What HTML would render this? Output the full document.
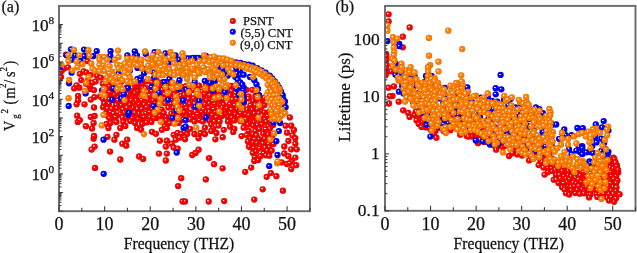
<!DOCTYPE html><html><head><meta charset="utf-8"><style>html,body{margin:0;padding:0;background:#fff;}svg{display:block;}text{font-family:"Liberation Serif",serif;}</style></head><body><svg width="637" height="253" viewBox="0 0 637 253" font-family="Liberation Serif, serif" fill="#111">
<defs>
<radialGradient id="r" cx="0.5" cy="0.5" r="0.5" fx="0.36" fy="0.37"><stop offset="0" stop-color="#ffffff"/><stop offset="0.12" stop-color="#ffffff" stop-opacity="0.9"/><stop offset="0.32" stop-color="#ff0000"/><stop offset="0.8" stop-color="#ff0000"/><stop offset="1" stop-color="#c00000"/></radialGradient>
<radialGradient id="b" cx="0.5" cy="0.5" r="0.5" fx="0.36" fy="0.37"><stop offset="0" stop-color="#ffffff"/><stop offset="0.12" stop-color="#ffffff" stop-opacity="0.9"/><stop offset="0.32" stop-color="#0000ff"/><stop offset="0.8" stop-color="#0000ff"/><stop offset="1" stop-color="#0000b0"/></radialGradient>
<radialGradient id="o" cx="0.5" cy="0.5" r="0.5" fx="0.36" fy="0.37"><stop offset="0" stop-color="#ffffff"/><stop offset="0.12" stop-color="#ffffff" stop-opacity="0.9"/><stop offset="0.32" stop-color="#ff8000"/><stop offset="0.8" stop-color="#ff8000"/><stop offset="1" stop-color="#d06000"/></radialGradient>
<clipPath id="ca"><rect x="59.0" y="5.9" width="250.90" height="205.30"/></clipPath>
<clipPath id="cb"><rect x="385.0" y="5.9" width="250.50" height="204.90"/></clipPath>
</defs>
<rect width="637" height="253" fill="#fff"/>
<g clip-path="url(#ca)">
<circle cx="102.9" cy="83.7" r="3.15" fill="url(#r)"/>
<circle cx="106.9" cy="82.0" r="3.15" fill="url(#r)"/>
<circle cx="111.2" cy="82.2" r="3.15" fill="url(#r)"/>
<circle cx="116.4" cy="81.1" r="3.15" fill="url(#r)"/>
<circle cx="121.5" cy="81.6" r="3.15" fill="url(#r)"/>
<circle cx="128.5" cy="81.2" r="3.15" fill="url(#r)"/>
<circle cx="132.6" cy="83.4" r="3.15" fill="url(#r)"/>
<circle cx="138.5" cy="81.7" r="3.15" fill="url(#r)"/>
<circle cx="142.1" cy="83.4" r="3.15" fill="url(#r)"/>
<circle cx="146.5" cy="81.4" r="3.15" fill="url(#r)"/>
<circle cx="151.8" cy="82.3" r="3.15" fill="url(#r)"/>
<circle cx="156.8" cy="80.9" r="3.15" fill="url(#r)"/>
<circle cx="162.1" cy="82.5" r="3.15" fill="url(#r)"/>
<circle cx="168.0" cy="82.4" r="3.15" fill="url(#r)"/>
<circle cx="178.6" cy="83.1" r="3.15" fill="url(#r)"/>
<circle cx="106.3" cy="87.7" r="3.15" fill="url(#r)"/>
<circle cx="109.3" cy="86.3" r="3.15" fill="url(#r)"/>
<circle cx="115.8" cy="86.8" r="3.15" fill="url(#r)"/>
<circle cx="119.5" cy="85.9" r="3.15" fill="url(#r)"/>
<circle cx="126.4" cy="87.6" r="3.15" fill="url(#r)"/>
<circle cx="130.9" cy="87.3" r="3.15" fill="url(#r)"/>
<circle cx="135.0" cy="86.3" r="3.15" fill="url(#r)"/>
<circle cx="138.7" cy="86.0" r="3.15" fill="url(#r)"/>
<circle cx="145.5" cy="87.9" r="3.15" fill="url(#r)"/>
<circle cx="151.2" cy="88.0" r="3.15" fill="url(#r)"/>
<circle cx="154.6" cy="85.9" r="3.15" fill="url(#r)"/>
<circle cx="159.2" cy="85.8" r="3.15" fill="url(#r)"/>
<circle cx="166.1" cy="87.6" r="3.15" fill="url(#r)"/>
<circle cx="170.4" cy="87.5" r="3.15" fill="url(#r)"/>
<circle cx="175.4" cy="87.8" r="3.15" fill="url(#r)"/>
<circle cx="180.7" cy="86.6" r="3.15" fill="url(#r)"/>
<circle cx="185.8" cy="86.2" r="3.15" fill="url(#r)"/>
<circle cx="191.3" cy="86.4" r="3.15" fill="url(#r)"/>
<circle cx="196.3" cy="87.3" r="3.15" fill="url(#r)"/>
<circle cx="199.0" cy="85.7" r="3.15" fill="url(#r)"/>
<circle cx="205.9" cy="85.7" r="3.15" fill="url(#r)"/>
<circle cx="211.3" cy="87.1" r="3.15" fill="url(#r)"/>
<circle cx="215.1" cy="85.6" r="3.15" fill="url(#r)"/>
<circle cx="221.3" cy="87.1" r="3.15" fill="url(#r)"/>
<circle cx="226.2" cy="86.5" r="3.15" fill="url(#r)"/>
<circle cx="230.9" cy="85.9" r="3.15" fill="url(#r)"/>
<circle cx="234.4" cy="85.9" r="3.15" fill="url(#r)"/>
<circle cx="244.0" cy="87.8" r="3.15" fill="url(#r)"/>
<circle cx="103.3" cy="90.1" r="3.15" fill="url(#r)"/>
<circle cx="108.1" cy="91.1" r="3.15" fill="url(#r)"/>
<circle cx="112.6" cy="91.1" r="3.15" fill="url(#r)"/>
<circle cx="116.4" cy="91.2" r="3.15" fill="url(#r)"/>
<circle cx="121.9" cy="91.8" r="3.15" fill="url(#r)"/>
<circle cx="127.7" cy="91.7" r="3.15" fill="url(#r)"/>
<circle cx="132.3" cy="91.3" r="3.15" fill="url(#r)"/>
<circle cx="137.5" cy="91.5" r="3.15" fill="url(#r)"/>
<circle cx="142.6" cy="90.9" r="3.15" fill="url(#r)"/>
<circle cx="148.1" cy="92.0" r="3.15" fill="url(#r)"/>
<circle cx="151.8" cy="91.2" r="3.15" fill="url(#r)"/>
<circle cx="158.5" cy="90.0" r="3.15" fill="url(#r)"/>
<circle cx="162.3" cy="89.8" r="3.15" fill="url(#r)"/>
<circle cx="166.3" cy="91.5" r="3.15" fill="url(#r)"/>
<circle cx="173.6" cy="90.0" r="3.15" fill="url(#r)"/>
<circle cx="177.9" cy="90.0" r="3.15" fill="url(#r)"/>
<circle cx="183.8" cy="90.2" r="3.15" fill="url(#r)"/>
<circle cx="187.2" cy="91.0" r="3.15" fill="url(#r)"/>
<circle cx="193.4" cy="90.0" r="3.15" fill="url(#r)"/>
<circle cx="197.5" cy="90.5" r="3.15" fill="url(#r)"/>
<circle cx="202.0" cy="91.6" r="3.15" fill="url(#r)"/>
<circle cx="207.7" cy="90.8" r="3.15" fill="url(#r)"/>
<circle cx="212.0" cy="91.3" r="3.15" fill="url(#r)"/>
<circle cx="216.3" cy="92.3" r="3.15" fill="url(#r)"/>
<circle cx="223.8" cy="89.9" r="3.15" fill="url(#r)"/>
<circle cx="226.2" cy="91.8" r="3.15" fill="url(#r)"/>
<circle cx="231.5" cy="90.8" r="3.15" fill="url(#r)"/>
<circle cx="238.4" cy="90.3" r="3.15" fill="url(#r)"/>
<circle cx="243.7" cy="91.2" r="3.15" fill="url(#r)"/>
<circle cx="246.4" cy="89.8" r="3.15" fill="url(#r)"/>
<circle cx="252.3" cy="89.8" r="3.15" fill="url(#r)"/>
<circle cx="100.1" cy="96.5" r="3.15" fill="url(#r)"/>
<circle cx="104.0" cy="95.4" r="3.15" fill="url(#r)"/>
<circle cx="108.9" cy="94.4" r="3.15" fill="url(#r)"/>
<circle cx="114.2" cy="94.8" r="3.15" fill="url(#r)"/>
<circle cx="120.7" cy="94.7" r="3.15" fill="url(#r)"/>
<circle cx="124.1" cy="94.9" r="3.15" fill="url(#r)"/>
<circle cx="129.3" cy="94.0" r="3.15" fill="url(#r)"/>
<circle cx="135.1" cy="94.5" r="3.15" fill="url(#r)"/>
<circle cx="141.2" cy="94.2" r="3.15" fill="url(#r)"/>
<circle cx="144.8" cy="95.3" r="3.15" fill="url(#r)"/>
<circle cx="149.7" cy="95.3" r="3.15" fill="url(#r)"/>
<circle cx="156.4" cy="94.9" r="3.15" fill="url(#r)"/>
<circle cx="160.6" cy="95.7" r="3.15" fill="url(#r)"/>
<circle cx="164.6" cy="94.1" r="3.15" fill="url(#r)"/>
<circle cx="168.8" cy="96.0" r="3.15" fill="url(#r)"/>
<circle cx="174.1" cy="94.2" r="3.15" fill="url(#r)"/>
<circle cx="181.0" cy="95.8" r="3.15" fill="url(#r)"/>
<circle cx="184.3" cy="94.7" r="3.15" fill="url(#r)"/>
<circle cx="189.0" cy="95.2" r="3.15" fill="url(#r)"/>
<circle cx="196.3" cy="96.6" r="3.15" fill="url(#r)"/>
<circle cx="199.3" cy="96.6" r="3.15" fill="url(#r)"/>
<circle cx="204.6" cy="93.9" r="3.15" fill="url(#r)"/>
<circle cx="209.9" cy="95.3" r="3.15" fill="url(#r)"/>
<circle cx="215.0" cy="93.9" r="3.15" fill="url(#r)"/>
<circle cx="218.9" cy="95.0" r="3.15" fill="url(#r)"/>
<circle cx="223.7" cy="94.8" r="3.15" fill="url(#r)"/>
<circle cx="230.2" cy="95.4" r="3.15" fill="url(#r)"/>
<circle cx="235.4" cy="95.9" r="3.15" fill="url(#r)"/>
<circle cx="239.7" cy="94.8" r="3.15" fill="url(#r)"/>
<circle cx="244.0" cy="95.9" r="3.15" fill="url(#r)"/>
<circle cx="248.7" cy="96.3" r="3.15" fill="url(#r)"/>
<circle cx="255.4" cy="96.0" r="3.15" fill="url(#r)"/>
<circle cx="259.0" cy="95.4" r="3.15" fill="url(#r)"/>
<circle cx="103.0" cy="98.9" r="3.15" fill="url(#r)"/>
<circle cx="106.5" cy="99.3" r="3.15" fill="url(#r)"/>
<circle cx="113.4" cy="99.8" r="3.15" fill="url(#r)"/>
<circle cx="117.9" cy="100.2" r="3.15" fill="url(#r)"/>
<circle cx="121.1" cy="100.5" r="3.15" fill="url(#r)"/>
<circle cx="127.5" cy="99.7" r="3.15" fill="url(#r)"/>
<circle cx="131.3" cy="100.3" r="3.15" fill="url(#r)"/>
<circle cx="136.3" cy="99.0" r="3.15" fill="url(#r)"/>
<circle cx="141.7" cy="100.3" r="3.15" fill="url(#r)"/>
<circle cx="147.5" cy="99.3" r="3.15" fill="url(#r)"/>
<circle cx="153.0" cy="100.4" r="3.15" fill="url(#r)"/>
<circle cx="157.9" cy="98.5" r="3.15" fill="url(#r)"/>
<circle cx="161.8" cy="100.3" r="3.15" fill="url(#r)"/>
<circle cx="167.7" cy="98.3" r="3.15" fill="url(#r)"/>
<circle cx="171.9" cy="100.1" r="3.15" fill="url(#r)"/>
<circle cx="178.0" cy="99.1" r="3.15" fill="url(#r)"/>
<circle cx="182.4" cy="99.6" r="3.15" fill="url(#r)"/>
<circle cx="188.6" cy="98.8" r="3.15" fill="url(#r)"/>
<circle cx="193.7" cy="98.3" r="3.15" fill="url(#r)"/>
<circle cx="198.4" cy="101.0" r="3.15" fill="url(#r)"/>
<circle cx="201.9" cy="98.8" r="3.15" fill="url(#r)"/>
<circle cx="206.7" cy="99.9" r="3.15" fill="url(#r)"/>
<circle cx="212.6" cy="100.9" r="3.15" fill="url(#r)"/>
<circle cx="218.4" cy="99.7" r="3.15" fill="url(#r)"/>
<circle cx="223.1" cy="98.9" r="3.15" fill="url(#r)"/>
<circle cx="227.5" cy="98.3" r="3.15" fill="url(#r)"/>
<circle cx="232.5" cy="99.5" r="3.15" fill="url(#r)"/>
<circle cx="236.5" cy="99.2" r="3.15" fill="url(#r)"/>
<circle cx="243.5" cy="98.3" r="3.15" fill="url(#r)"/>
<circle cx="248.4" cy="98.6" r="3.15" fill="url(#r)"/>
<circle cx="253.1" cy="100.8" r="3.15" fill="url(#r)"/>
<circle cx="257.1" cy="99.4" r="3.15" fill="url(#r)"/>
<circle cx="262.7" cy="99.3" r="3.15" fill="url(#r)"/>
<circle cx="104.3" cy="103.3" r="3.15" fill="url(#r)"/>
<circle cx="109.1" cy="103.6" r="3.15" fill="url(#r)"/>
<circle cx="116.1" cy="104.9" r="3.15" fill="url(#r)"/>
<circle cx="121.2" cy="105.2" r="3.15" fill="url(#r)"/>
<circle cx="125.6" cy="102.7" r="3.15" fill="url(#r)"/>
<circle cx="129.9" cy="104.7" r="3.15" fill="url(#r)"/>
<circle cx="134.4" cy="102.7" r="3.15" fill="url(#r)"/>
<circle cx="139.0" cy="103.9" r="3.15" fill="url(#r)"/>
<circle cx="144.4" cy="104.6" r="3.15" fill="url(#r)"/>
<circle cx="149.3" cy="104.4" r="3.15" fill="url(#r)"/>
<circle cx="155.2" cy="103.7" r="3.15" fill="url(#r)"/>
<circle cx="159.1" cy="103.2" r="3.15" fill="url(#r)"/>
<circle cx="165.0" cy="103.2" r="3.15" fill="url(#r)"/>
<circle cx="171.4" cy="103.8" r="3.15" fill="url(#r)"/>
<circle cx="174.1" cy="102.8" r="3.15" fill="url(#r)"/>
<circle cx="178.9" cy="103.2" r="3.15" fill="url(#r)"/>
<circle cx="185.2" cy="105.1" r="3.15" fill="url(#r)"/>
<circle cx="189.8" cy="103.7" r="3.15" fill="url(#r)"/>
<circle cx="194.7" cy="103.5" r="3.15" fill="url(#r)"/>
<circle cx="199.4" cy="105.3" r="3.15" fill="url(#r)"/>
<circle cx="205.0" cy="104.3" r="3.15" fill="url(#r)"/>
<circle cx="209.2" cy="103.3" r="3.15" fill="url(#r)"/>
<circle cx="214.7" cy="103.8" r="3.15" fill="url(#r)"/>
<circle cx="221.0" cy="105.0" r="3.15" fill="url(#r)"/>
<circle cx="223.7" cy="104.6" r="3.15" fill="url(#r)"/>
<circle cx="229.9" cy="104.2" r="3.15" fill="url(#r)"/>
<circle cx="234.7" cy="105.2" r="3.15" fill="url(#r)"/>
<circle cx="241.0" cy="105.3" r="3.15" fill="url(#r)"/>
<circle cx="243.9" cy="103.0" r="3.15" fill="url(#r)"/>
<circle cx="250.5" cy="105.2" r="3.15" fill="url(#r)"/>
<circle cx="255.4" cy="104.7" r="3.15" fill="url(#r)"/>
<circle cx="260.1" cy="102.7" r="3.15" fill="url(#r)"/>
<circle cx="264.3" cy="105.2" r="3.15" fill="url(#r)"/>
<circle cx="103.1" cy="107.2" r="3.15" fill="url(#r)"/>
<circle cx="107.6" cy="108.5" r="3.15" fill="url(#r)"/>
<circle cx="111.7" cy="108.6" r="3.15" fill="url(#r)"/>
<circle cx="116.9" cy="108.2" r="3.15" fill="url(#r)"/>
<circle cx="122.9" cy="109.4" r="3.15" fill="url(#r)"/>
<circle cx="126.8" cy="107.6" r="3.15" fill="url(#r)"/>
<circle cx="133.1" cy="107.8" r="3.15" fill="url(#r)"/>
<circle cx="137.5" cy="108.8" r="3.15" fill="url(#r)"/>
<circle cx="141.8" cy="108.8" r="3.15" fill="url(#r)"/>
<circle cx="146.7" cy="107.0" r="3.15" fill="url(#r)"/>
<circle cx="152.3" cy="108.8" r="3.15" fill="url(#r)"/>
<circle cx="158.3" cy="109.0" r="3.15" fill="url(#r)"/>
<circle cx="161.7" cy="109.6" r="3.15" fill="url(#r)"/>
<circle cx="168.4" cy="107.6" r="3.15" fill="url(#r)"/>
<circle cx="173.2" cy="107.7" r="3.15" fill="url(#r)"/>
<circle cx="177.5" cy="107.4" r="3.15" fill="url(#r)"/>
<circle cx="182.3" cy="108.8" r="3.15" fill="url(#r)"/>
<circle cx="186.5" cy="108.0" r="3.15" fill="url(#r)"/>
<circle cx="193.8" cy="107.3" r="3.15" fill="url(#r)"/>
<circle cx="196.3" cy="108.0" r="3.15" fill="url(#r)"/>
<circle cx="203.6" cy="109.0" r="3.15" fill="url(#r)"/>
<circle cx="208.7" cy="107.8" r="3.15" fill="url(#r)"/>
<circle cx="213.7" cy="109.0" r="3.15" fill="url(#r)"/>
<circle cx="218.0" cy="108.0" r="3.15" fill="url(#r)"/>
<circle cx="222.0" cy="107.4" r="3.15" fill="url(#r)"/>
<circle cx="226.9" cy="107.9" r="3.15" fill="url(#r)"/>
<circle cx="231.4" cy="109.6" r="3.15" fill="url(#r)"/>
<circle cx="237.1" cy="109.2" r="3.15" fill="url(#r)"/>
<circle cx="242.3" cy="107.0" r="3.15" fill="url(#r)"/>
<circle cx="247.1" cy="109.5" r="3.15" fill="url(#r)"/>
<circle cx="252.1" cy="109.4" r="3.15" fill="url(#r)"/>
<circle cx="257.3" cy="109.2" r="3.15" fill="url(#r)"/>
<circle cx="261.2" cy="107.0" r="3.15" fill="url(#r)"/>
<circle cx="106.3" cy="113.0" r="3.15" fill="url(#r)"/>
<circle cx="110.6" cy="112.1" r="3.15" fill="url(#r)"/>
<circle cx="113.6" cy="113.4" r="3.15" fill="url(#r)"/>
<circle cx="120.4" cy="113.9" r="3.15" fill="url(#r)"/>
<circle cx="124.3" cy="112.6" r="3.15" fill="url(#r)"/>
<circle cx="131.3" cy="112.3" r="3.15" fill="url(#r)"/>
<circle cx="134.8" cy="112.6" r="3.15" fill="url(#r)"/>
<circle cx="139.1" cy="113.5" r="3.15" fill="url(#r)"/>
<circle cx="145.9" cy="113.4" r="3.15" fill="url(#r)"/>
<circle cx="149.5" cy="112.1" r="3.15" fill="url(#r)"/>
<circle cx="155.8" cy="111.5" r="3.15" fill="url(#r)"/>
<circle cx="160.7" cy="111.9" r="3.15" fill="url(#r)"/>
<circle cx="163.7" cy="112.8" r="3.15" fill="url(#r)"/>
<circle cx="171.3" cy="113.7" r="3.15" fill="url(#r)"/>
<circle cx="174.3" cy="111.5" r="3.15" fill="url(#r)"/>
<circle cx="180.0" cy="113.2" r="3.15" fill="url(#r)"/>
<circle cx="184.3" cy="112.4" r="3.15" fill="url(#r)"/>
<circle cx="190.5" cy="113.3" r="3.15" fill="url(#r)"/>
<circle cx="195.5" cy="111.6" r="3.15" fill="url(#r)"/>
<circle cx="199.4" cy="112.8" r="3.15" fill="url(#r)"/>
<circle cx="205.7" cy="111.8" r="3.15" fill="url(#r)"/>
<circle cx="209.3" cy="111.7" r="3.15" fill="url(#r)"/>
<circle cx="215.2" cy="112.2" r="3.15" fill="url(#r)"/>
<circle cx="221.4" cy="112.7" r="3.15" fill="url(#r)"/>
<circle cx="225.9" cy="113.1" r="3.15" fill="url(#r)"/>
<circle cx="228.9" cy="112.6" r="3.15" fill="url(#r)"/>
<circle cx="236.0" cy="113.8" r="3.15" fill="url(#r)"/>
<circle cx="239.4" cy="111.6" r="3.15" fill="url(#r)"/>
<circle cx="246.3" cy="112.9" r="3.15" fill="url(#r)"/>
<circle cx="249.6" cy="113.7" r="3.15" fill="url(#r)"/>
<circle cx="254.3" cy="113.4" r="3.15" fill="url(#r)"/>
<circle cx="258.9" cy="112.9" r="3.15" fill="url(#r)"/>
<circle cx="264.2" cy="112.3" r="3.15" fill="url(#r)"/>
<circle cx="269.2" cy="112.0" r="3.15" fill="url(#r)"/>
<circle cx="108.0" cy="116.1" r="3.15" fill="url(#r)"/>
<circle cx="111.7" cy="117.8" r="3.15" fill="url(#r)"/>
<circle cx="116.3" cy="115.9" r="3.15" fill="url(#r)"/>
<circle cx="122.6" cy="117.4" r="3.15" fill="url(#r)"/>
<circle cx="126.6" cy="117.5" r="3.15" fill="url(#r)"/>
<circle cx="131.9" cy="116.4" r="3.15" fill="url(#r)"/>
<circle cx="137.0" cy="117.2" r="3.15" fill="url(#r)"/>
<circle cx="142.3" cy="118.0" r="3.15" fill="url(#r)"/>
<circle cx="147.1" cy="116.1" r="3.15" fill="url(#r)"/>
<circle cx="151.7" cy="115.6" r="3.15" fill="url(#r)"/>
<circle cx="157.3" cy="117.9" r="3.15" fill="url(#r)"/>
<circle cx="163.6" cy="116.9" r="3.15" fill="url(#r)"/>
<circle cx="166.1" cy="117.1" r="3.15" fill="url(#r)"/>
<circle cx="173.6" cy="115.8" r="3.15" fill="url(#r)"/>
<circle cx="177.1" cy="117.0" r="3.15" fill="url(#r)"/>
<circle cx="181.9" cy="117.0" r="3.15" fill="url(#r)"/>
<circle cx="186.4" cy="116.9" r="3.15" fill="url(#r)"/>
<circle cx="193.8" cy="116.1" r="3.15" fill="url(#r)"/>
<circle cx="198.7" cy="118.3" r="3.15" fill="url(#r)"/>
<circle cx="201.2" cy="118.2" r="3.15" fill="url(#r)"/>
<circle cx="208.6" cy="117.3" r="3.15" fill="url(#r)"/>
<circle cx="211.5" cy="117.8" r="3.15" fill="url(#r)"/>
<circle cx="217.2" cy="117.9" r="3.15" fill="url(#r)"/>
<circle cx="221.6" cy="116.2" r="3.15" fill="url(#r)"/>
<circle cx="227.6" cy="116.6" r="3.15" fill="url(#r)"/>
<circle cx="231.8" cy="117.6" r="3.15" fill="url(#r)"/>
<circle cx="236.2" cy="117.1" r="3.15" fill="url(#r)"/>
<circle cx="241.2" cy="117.9" r="3.15" fill="url(#r)"/>
<circle cx="247.8" cy="117.1" r="3.15" fill="url(#r)"/>
<circle cx="252.0" cy="116.7" r="3.15" fill="url(#r)"/>
<circle cx="257.3" cy="117.4" r="3.15" fill="url(#r)"/>
<circle cx="262.3" cy="115.6" r="3.15" fill="url(#r)"/>
<circle cx="267.5" cy="116.2" r="3.15" fill="url(#r)"/>
<circle cx="151.4" cy="121.9" r="3.15" fill="url(#r)"/>
<circle cx="166.2" cy="120.4" r="3.15" fill="url(#r)"/>
<circle cx="171.2" cy="120.1" r="3.15" fill="url(#r)"/>
<circle cx="175.7" cy="120.3" r="3.15" fill="url(#r)"/>
<circle cx="199.5" cy="120.0" r="3.15" fill="url(#r)"/>
<circle cx="218.9" cy="121.4" r="3.15" fill="url(#r)"/>
<circle cx="230.2" cy="121.5" r="3.15" fill="url(#r)"/>
<circle cx="240.4" cy="121.0" r="3.15" fill="url(#r)"/>
<circle cx="244.3" cy="122.7" r="3.15" fill="url(#r)"/>
<circle cx="249.6" cy="122.0" r="3.15" fill="url(#r)"/>
<circle cx="254.1" cy="122.0" r="3.15" fill="url(#r)"/>
<circle cx="260.9" cy="120.6" r="3.15" fill="url(#r)"/>
<circle cx="266.4" cy="121.5" r="3.15" fill="url(#r)"/>
<circle cx="269.5" cy="119.9" r="3.15" fill="url(#r)"/>
<circle cx="248.1" cy="124.2" r="3.15" fill="url(#r)"/>
<circle cx="253.2" cy="125.5" r="3.15" fill="url(#r)"/>
<circle cx="257.4" cy="124.9" r="3.15" fill="url(#r)"/>
<circle cx="261.8" cy="124.3" r="3.15" fill="url(#r)"/>
<circle cx="268.2" cy="126.2" r="3.15" fill="url(#r)"/>
<circle cx="273.1" cy="125.0" r="3.15" fill="url(#r)"/>
<circle cx="248.7" cy="130.9" r="3.15" fill="url(#r)"/>
<circle cx="255.4" cy="130.9" r="3.15" fill="url(#r)"/>
<circle cx="259.4" cy="128.8" r="3.15" fill="url(#r)"/>
<circle cx="265.7" cy="129.1" r="3.15" fill="url(#r)"/>
<circle cx="269.8" cy="128.6" r="3.15" fill="url(#r)"/>
<circle cx="247.6" cy="135.0" r="3.15" fill="url(#r)"/>
<circle cx="252.9" cy="133.9" r="3.15" fill="url(#r)"/>
<circle cx="256.5" cy="135.3" r="3.15" fill="url(#r)"/>
<circle cx="263.2" cy="133.4" r="3.15" fill="url(#r)"/>
<circle cx="268.3" cy="134.5" r="3.15" fill="url(#r)"/>
<circle cx="272.4" cy="135.4" r="3.15" fill="url(#r)"/>
<circle cx="249.8" cy="138.5" r="3.15" fill="url(#r)"/>
<circle cx="254.7" cy="139.1" r="3.15" fill="url(#r)"/>
<circle cx="259.1" cy="139.1" r="3.15" fill="url(#r)"/>
<circle cx="264.7" cy="138.6" r="3.15" fill="url(#r)"/>
<circle cx="268.7" cy="138.7" r="3.15" fill="url(#r)"/>
<circle cx="253.1" cy="142.3" r="3.15" fill="url(#r)"/>
<circle cx="256.9" cy="142.9" r="3.15" fill="url(#r)"/>
<circle cx="262.9" cy="143.4" r="3.15" fill="url(#r)"/>
<circle cx="268.7" cy="143.9" r="3.15" fill="url(#r)"/>
<circle cx="273.4" cy="144.1" r="3.15" fill="url(#r)"/>
<circle cx="250.0" cy="147.2" r="3.15" fill="url(#r)"/>
<circle cx="253.7" cy="147.9" r="3.15" fill="url(#r)"/>
<circle cx="259.5" cy="148.3" r="3.15" fill="url(#r)"/>
<circle cx="264.9" cy="147.4" r="3.15" fill="url(#r)"/>
<circle cx="269.2" cy="147.1" r="3.15" fill="url(#r)"/>
<circle cx="252.7" cy="152.8" r="3.15" fill="url(#r)"/>
<circle cx="256.1" cy="151.3" r="3.15" fill="url(#r)"/>
<circle cx="263.7" cy="153.0" r="3.15" fill="url(#r)"/>
<circle cx="267.3" cy="150.5" r="3.15" fill="url(#r)"/>
<circle cx="271.7" cy="150.6" r="3.15" fill="url(#r)"/>
<circle cx="254.8" cy="157.0" r="3.15" fill="url(#r)"/>
<circle cx="260.5" cy="156.2" r="3.15" fill="url(#r)"/>
<circle cx="265.9" cy="155.3" r="3.15" fill="url(#r)"/>
<circle cx="269.3" cy="155.7" r="3.15" fill="url(#r)"/>
<circle cx="77.2" cy="115.7" r="3.15" fill="url(#r)"/>
<circle cx="77.8" cy="121.9" r="3.15" fill="url(#r)"/>
<circle cx="94.6" cy="116.0" r="3.15" fill="url(#r)"/>
<circle cx="109.4" cy="118.0" r="3.15" fill="url(#r)"/>
<circle cx="115.4" cy="117.0" r="3.15" fill="url(#r)"/>
<circle cx="116.4" cy="121.9" r="3.15" fill="url(#r)"/>
<circle cx="110.4" cy="122.9" r="3.15" fill="url(#r)"/>
<circle cx="132.2" cy="118.0" r="3.15" fill="url(#r)"/>
<circle cx="138.1" cy="119.0" r="3.15" fill="url(#r)"/>
<circle cx="144.0" cy="117.0" r="3.15" fill="url(#r)"/>
<circle cx="150.0" cy="117.0" r="3.15" fill="url(#r)"/>
<circle cx="146.5" cy="122.4" r="3.15" fill="url(#r)"/>
<circle cx="153.9" cy="118.0" r="3.15" fill="url(#r)"/>
<circle cx="159.9" cy="116.0" r="3.15" fill="url(#r)"/>
<circle cx="181.6" cy="119.9" r="3.15" fill="url(#r)"/>
<circle cx="85.9" cy="126.2" r="3.15" fill="url(#r)"/>
<circle cx="92.0" cy="128.5" r="3.15" fill="url(#r)"/>
<circle cx="93.6" cy="122.9" r="3.15" fill="url(#r)"/>
<circle cx="106.5" cy="123.9" r="3.15" fill="url(#r)"/>
<circle cx="108.4" cy="127.9" r="3.15" fill="url(#r)"/>
<circle cx="120.3" cy="127.9" r="3.15" fill="url(#r)"/>
<circle cx="123.3" cy="121.9" r="3.15" fill="url(#r)"/>
<circle cx="125.3" cy="125.9" r="3.15" fill="url(#r)"/>
<circle cx="130.2" cy="120.9" r="3.15" fill="url(#r)"/>
<circle cx="135.1" cy="122.9" r="3.15" fill="url(#r)"/>
<circle cx="137.1" cy="127.9" r="3.15" fill="url(#r)"/>
<circle cx="142.1" cy="123.9" r="3.15" fill="url(#r)"/>
<circle cx="141.1" cy="129.8" r="3.15" fill="url(#r)"/>
<circle cx="164.8" cy="125.9" r="3.15" fill="url(#r)"/>
<circle cx="169.8" cy="122.9" r="3.15" fill="url(#r)"/>
<circle cx="178.7" cy="122.9" r="3.15" fill="url(#r)"/>
<circle cx="183.6" cy="119.0" r="3.15" fill="url(#r)"/>
<circle cx="152.0" cy="131.8" r="3.15" fill="url(#r)"/>
<circle cx="155.9" cy="133.8" r="3.15" fill="url(#r)"/>
<circle cx="161.8" cy="129.8" r="3.15" fill="url(#r)"/>
<circle cx="166.8" cy="127.9" r="3.15" fill="url(#r)"/>
<circle cx="173.7" cy="134.8" r="3.15" fill="url(#r)"/>
<circle cx="177.7" cy="132.8" r="3.15" fill="url(#r)"/>
<circle cx="181.6" cy="133.8" r="3.15" fill="url(#r)"/>
<circle cx="184.6" cy="131.8" r="3.15" fill="url(#r)"/>
<circle cx="93.6" cy="138.7" r="3.15" fill="url(#r)"/>
<circle cx="107.5" cy="136.8" r="3.15" fill="url(#r)"/>
<circle cx="114.4" cy="139.7" r="3.15" fill="url(#r)"/>
<circle cx="116.4" cy="134.8" r="3.15" fill="url(#r)"/>
<circle cx="127.2" cy="139.7" r="3.15" fill="url(#r)"/>
<circle cx="122.3" cy="143.7" r="3.15" fill="url(#r)"/>
<circle cx="126.2" cy="145.7" r="3.15" fill="url(#r)"/>
<circle cx="159.9" cy="140.7" r="3.15" fill="url(#r)"/>
<circle cx="166.8" cy="140.7" r="3.15" fill="url(#r)"/>
<circle cx="175.7" cy="139.7" r="3.15" fill="url(#r)"/>
<circle cx="179.6" cy="137.7" r="3.15" fill="url(#r)"/>
<circle cx="171.7" cy="143.7" r="3.15" fill="url(#r)"/>
<circle cx="94.6" cy="146.6" r="3.15" fill="url(#r)"/>
<circle cx="91.6" cy="149.6" r="3.15" fill="url(#r)"/>
<circle cx="110.0" cy="151.6" r="3.15" fill="url(#r)"/>
<circle cx="165.8" cy="146.6" r="3.15" fill="url(#r)"/>
<circle cx="173.7" cy="147.6" r="3.15" fill="url(#r)"/>
<circle cx="177.7" cy="148.6" r="3.15" fill="url(#r)"/>
<circle cx="158.9" cy="153.6" r="3.15" fill="url(#r)"/>
<circle cx="166.8" cy="153.6" r="3.15" fill="url(#r)"/>
<circle cx="120.3" cy="159.5" r="3.15" fill="url(#r)"/>
<circle cx="139.1" cy="156.5" r="3.15" fill="url(#r)"/>
<circle cx="143.1" cy="158.9" r="3.15" fill="url(#r)"/>
<circle cx="165.8" cy="160.5" r="3.15" fill="url(#r)"/>
<circle cx="95.0" cy="167.9" r="3.15" fill="url(#r)"/>
<circle cx="181.2" cy="178.2" r="3.15" fill="url(#r)"/>
<circle cx="178.1" cy="186.1" r="3.15" fill="url(#r)"/>
<circle cx="182.6" cy="201.5" r="3.15" fill="url(#r)"/>
<circle cx="214.0" cy="164.2" r="3.15" fill="url(#r)"/>
<circle cx="222.6" cy="168.3" r="3.15" fill="url(#r)"/>
<circle cx="205.8" cy="179.4" r="3.15" fill="url(#r)"/>
<circle cx="245.2" cy="171.8" r="3.15" fill="url(#r)"/>
<circle cx="251.2" cy="167.6" r="3.15" fill="url(#r)"/>
<circle cx="254.2" cy="161.0" r="3.15" fill="url(#r)"/>
<circle cx="258.2" cy="160.0" r="3.15" fill="url(#r)"/>
<circle cx="281.7" cy="162.3" r="3.15" fill="url(#r)"/>
<circle cx="286.9" cy="164.0" r="3.15" fill="url(#r)"/>
<circle cx="291.8" cy="161.0" r="3.15" fill="url(#r)"/>
<circle cx="296.2" cy="165.2" r="3.15" fill="url(#r)"/>
<circle cx="291.2" cy="169.1" r="3.15" fill="url(#r)"/>
<circle cx="266.7" cy="176.8" r="3.15" fill="url(#r)"/>
<circle cx="270.9" cy="173.1" r="3.15" fill="url(#r)"/>
<circle cx="276.4" cy="176.2" r="3.15" fill="url(#r)"/>
<circle cx="262.7" cy="189.3" r="3.15" fill="url(#r)"/>
<circle cx="282.9" cy="190.7" r="3.15" fill="url(#r)"/>
<circle cx="185.0" cy="201.5" r="3.15" fill="url(#r)"/>
<circle cx="208.7" cy="201.5" r="3.15" fill="url(#r)"/>
<circle cx="224.2" cy="201.1" r="3.15" fill="url(#r)"/>
<circle cx="254.2" cy="199.6" r="3.15" fill="url(#r)"/>
<circle cx="190.2" cy="113.0" r="3.15" fill="url(#r)"/>
<circle cx="197.6" cy="114.1" r="3.15" fill="url(#r)"/>
<circle cx="201.8" cy="112.0" r="3.15" fill="url(#r)"/>
<circle cx="224.8" cy="114.1" r="3.15" fill="url(#r)"/>
<circle cx="230.1" cy="113.0" r="3.15" fill="url(#r)"/>
<circle cx="235.3" cy="114.1" r="3.15" fill="url(#r)"/>
<circle cx="240.6" cy="113.0" r="3.15" fill="url(#r)"/>
<circle cx="245.8" cy="114.1" r="3.15" fill="url(#r)"/>
<circle cx="248.9" cy="115.1" r="3.15" fill="url(#r)"/>
<circle cx="212.3" cy="115.1" r="3.15" fill="url(#r)"/>
<circle cx="216.4" cy="117.2" r="3.15" fill="url(#r)"/>
<circle cx="221.7" cy="115.1" r="3.15" fill="url(#r)"/>
<circle cx="190.2" cy="119.3" r="3.15" fill="url(#r)"/>
<circle cx="194.4" cy="121.4" r="3.15" fill="url(#r)"/>
<circle cx="202.8" cy="121.4" r="3.15" fill="url(#r)"/>
<circle cx="209.1" cy="120.4" r="3.15" fill="url(#r)"/>
<circle cx="214.4" cy="121.4" r="3.15" fill="url(#r)"/>
<circle cx="219.6" cy="121.4" r="3.15" fill="url(#r)"/>
<circle cx="228.0" cy="121.4" r="3.15" fill="url(#r)"/>
<circle cx="234.3" cy="120.4" r="3.15" fill="url(#r)"/>
<circle cx="238.5" cy="116.2" r="3.15" fill="url(#r)"/>
<circle cx="245.8" cy="119.3" r="3.15" fill="url(#r)"/>
<circle cx="190.2" cy="128.8" r="3.15" fill="url(#r)"/>
<circle cx="204.9" cy="127.7" r="3.15" fill="url(#r)"/>
<circle cx="211.2" cy="124.6" r="3.15" fill="url(#r)"/>
<circle cx="213.3" cy="128.8" r="3.15" fill="url(#r)"/>
<circle cx="218.5" cy="125.6" r="3.15" fill="url(#r)"/>
<circle cx="223.8" cy="129.8" r="3.15" fill="url(#r)"/>
<circle cx="230.1" cy="126.7" r="3.15" fill="url(#r)"/>
<circle cx="234.3" cy="128.8" r="3.15" fill="url(#r)"/>
<circle cx="233.2" cy="131.9" r="3.15" fill="url(#r)"/>
<circle cx="243.7" cy="127.7" r="3.15" fill="url(#r)"/>
<circle cx="247.9" cy="124.6" r="3.15" fill="url(#r)"/>
<circle cx="187.1" cy="134.0" r="3.15" fill="url(#r)"/>
<circle cx="194.4" cy="134.0" r="3.15" fill="url(#r)"/>
<circle cx="200.7" cy="133.0" r="3.15" fill="url(#r)"/>
<circle cx="204.9" cy="134.0" r="3.15" fill="url(#r)"/>
<circle cx="211.2" cy="130.9" r="3.15" fill="url(#r)"/>
<circle cx="216.4" cy="133.0" r="3.15" fill="url(#r)"/>
<circle cx="222.7" cy="137.2" r="3.15" fill="url(#r)"/>
<circle cx="241.6" cy="136.1" r="3.15" fill="url(#r)"/>
<circle cx="246.8" cy="135.1" r="3.15" fill="url(#r)"/>
<circle cx="185.0" cy="139.3" r="3.15" fill="url(#r)"/>
<circle cx="198.6" cy="138.2" r="3.15" fill="url(#r)"/>
<circle cx="215.4" cy="139.3" r="3.15" fill="url(#r)"/>
<circle cx="247.9" cy="141.4" r="3.15" fill="url(#r)"/>
<circle cx="248.9" cy="146.6" r="3.15" fill="url(#r)"/>
<circle cx="198.6" cy="149.7" r="3.15" fill="url(#r)"/>
<circle cx="195.5" cy="152.9" r="3.15" fill="url(#r)"/>
<circle cx="192.3" cy="155.0" r="3.15" fill="url(#r)"/>
<circle cx="209.1" cy="158.1" r="3.15" fill="url(#r)"/>
<circle cx="66.0" cy="54.7" r="3.15" fill="url(#r)"/>
<circle cx="87.5" cy="61.0" r="3.15" fill="url(#r)"/>
<circle cx="64.1" cy="68.6" r="3.15" fill="url(#r)"/>
<circle cx="67.9" cy="67.3" r="3.15" fill="url(#r)"/>
<circle cx="83.7" cy="71.5" r="3.15" fill="url(#r)"/>
<circle cx="86.2" cy="72.4" r="3.15" fill="url(#r)"/>
<circle cx="61.5" cy="71.1" r="3.15" fill="url(#r)"/>
<circle cx="60.9" cy="77.0" r="3.15" fill="url(#r)"/>
<circle cx="74.2" cy="88.4" r="3.15" fill="url(#r)"/>
<circle cx="79.3" cy="87.7" r="3.15" fill="url(#r)"/>
<circle cx="79.9" cy="73.8" r="3.15" fill="url(#r)"/>
<circle cx="81.2" cy="80.1" r="3.15" fill="url(#r)"/>
<circle cx="88.1" cy="80.1" r="3.15" fill="url(#r)"/>
<circle cx="90.6" cy="75.1" r="3.15" fill="url(#r)"/>
<circle cx="92.5" cy="82.7" r="3.15" fill="url(#r)"/>
<circle cx="95.7" cy="81.4" r="3.15" fill="url(#r)"/>
<circle cx="97.0" cy="75.7" r="3.15" fill="url(#r)"/>
<circle cx="100.8" cy="77.6" r="3.15" fill="url(#r)"/>
<circle cx="90.6" cy="89.0" r="3.15" fill="url(#r)"/>
<circle cx="89.4" cy="85.8" r="3.15" fill="url(#r)"/>
<circle cx="94.4" cy="97.2" r="3.15" fill="url(#r)"/>
<circle cx="78.1" cy="95.9" r="3.15" fill="url(#r)"/>
<circle cx="78.0" cy="100.4" r="3.15" fill="url(#r)"/>
<circle cx="109.6" cy="92.2" r="3.15" fill="url(#r)"/>
<circle cx="114.7" cy="94.7" r="3.15" fill="url(#r)"/>
<circle cx="117.2" cy="92.8" r="3.15" fill="url(#r)"/>
<circle cx="126.1" cy="99.1" r="3.15" fill="url(#r)"/>
<circle cx="133.7" cy="95.3" r="3.15" fill="url(#r)"/>
<circle cx="132.4" cy="87.7" r="3.15" fill="url(#r)"/>
<circle cx="134.9" cy="92.8" r="3.15" fill="url(#r)"/>
<circle cx="137.5" cy="83.9" r="3.15" fill="url(#r)"/>
<circle cx="136.2" cy="100.4" r="3.15" fill="url(#r)"/>
<circle cx="128.0" cy="94.1" r="3.15" fill="url(#r)"/>
<circle cx="109.6" cy="99.1" r="3.15" fill="url(#r)"/>
<circle cx="264.1" cy="97.7" r="3.15" fill="url(#r)"/>
<circle cx="76.6" cy="85.3" r="3.15" fill="url(#r)"/>
<circle cx="86.1" cy="83.8" r="3.15" fill="url(#r)"/>
<circle cx="94.0" cy="90.1" r="3.15" fill="url(#r)"/>
<circle cx="76.6" cy="104.3" r="3.15" fill="url(#r)"/>
<circle cx="90.8" cy="99.6" r="3.15" fill="url(#r)"/>
<circle cx="94.0" cy="107.5" r="3.15" fill="url(#r)"/>
<circle cx="84.5" cy="104.3" r="3.15" fill="url(#r)"/>
<circle cx="79.8" cy="120.2" r="3.15" fill="url(#r)"/>
<circle cx="94.0" cy="136.0" r="3.15" fill="url(#r)"/>
<circle cx="90.8" cy="117.0" r="3.15" fill="url(#r)"/>
<circle cx="289.8" cy="117.4" r="3.15" fill="url(#r)"/>
<circle cx="285.6" cy="125.7" r="3.15" fill="url(#r)"/>
<circle cx="291.2" cy="125.7" r="3.15" fill="url(#r)"/>
<circle cx="287.0" cy="132.7" r="3.15" fill="url(#r)"/>
<circle cx="292.6" cy="135.4" r="3.15" fill="url(#r)"/>
<circle cx="288.4" cy="141.0" r="3.15" fill="url(#r)"/>
<circle cx="295.3" cy="143.7" r="3.15" fill="url(#r)"/>
<circle cx="284.3" cy="146.5" r="3.15" fill="url(#r)"/>
<circle cx="291.2" cy="149.3" r="3.15" fill="url(#r)"/>
<circle cx="296.7" cy="149.3" r="3.15" fill="url(#r)"/>
<circle cx="284.3" cy="153.4" r="3.15" fill="url(#r)"/>
<circle cx="288.4" cy="156.2" r="3.15" fill="url(#r)"/>
<circle cx="295.3" cy="157.6" r="3.15" fill="url(#r)"/>
<circle cx="289.8" cy="163.1" r="3.15" fill="url(#r)"/>
<circle cx="295.3" cy="138.2" r="3.15" fill="url(#r)"/>
<circle cx="293.9" cy="129.9" r="3.15" fill="url(#r)"/>
<circle cx="185.9" cy="58.3" r="3.15" fill="url(#b)"/>
<circle cx="190.9" cy="58.3" r="3.15" fill="url(#b)"/>
<circle cx="195.8" cy="58.0" r="3.15" fill="url(#b)"/>
<circle cx="199.9" cy="58.3" r="3.15" fill="url(#b)"/>
<circle cx="203.1" cy="58.4" r="3.15" fill="url(#b)"/>
<circle cx="207.0" cy="58.6" r="3.15" fill="url(#b)"/>
<circle cx="211.8" cy="58.3" r="3.15" fill="url(#b)"/>
<circle cx="217.3" cy="58.6" r="3.15" fill="url(#b)"/>
<circle cx="220.4" cy="59.3" r="3.15" fill="url(#b)"/>
<circle cx="224.0" cy="60.4" r="3.15" fill="url(#b)"/>
<circle cx="227.8" cy="61.4" r="3.15" fill="url(#b)"/>
<circle cx="232.1" cy="61.8" r="3.15" fill="url(#b)"/>
<circle cx="236.2" cy="62.5" r="3.15" fill="url(#b)"/>
<circle cx="240.5" cy="62.9" r="3.15" fill="url(#b)"/>
<circle cx="244.5" cy="64.1" r="3.15" fill="url(#b)"/>
<circle cx="248.7" cy="64.7" r="3.15" fill="url(#b)"/>
<circle cx="252.7" cy="65.7" r="3.15" fill="url(#b)"/>
<circle cx="257.2" cy="68.1" r="3.15" fill="url(#b)"/>
<circle cx="261.5" cy="70.3" r="3.15" fill="url(#b)"/>
<circle cx="265.5" cy="72.7" r="3.15" fill="url(#b)"/>
<circle cx="269.7" cy="75.7" r="3.15" fill="url(#b)"/>
<circle cx="272.2" cy="78.4" r="3.15" fill="url(#b)"/>
<circle cx="274.8" cy="81.5" r="3.15" fill="url(#b)"/>
<circle cx="277.3" cy="84.6" r="3.15" fill="url(#b)"/>
<circle cx="279.4" cy="88.0" r="3.15" fill="url(#b)"/>
<circle cx="280.9" cy="91.4" r="3.15" fill="url(#b)"/>
<circle cx="282.7" cy="95.2" r="3.15" fill="url(#b)"/>
<circle cx="283.2" cy="99.0" r="3.15" fill="url(#b)"/>
<circle cx="283.8" cy="102.9" r="3.15" fill="url(#b)"/>
<circle cx="284.0" cy="108.0" r="3.15" fill="url(#b)"/>
<circle cx="217.3" cy="69.4" r="3.15" fill="url(#b)"/>
<circle cx="222.6" cy="70.8" r="3.15" fill="url(#b)"/>
<circle cx="228.0" cy="72.5" r="3.15" fill="url(#b)"/>
<circle cx="232.3" cy="73.3" r="3.15" fill="url(#b)"/>
<circle cx="236.8" cy="73.3" r="3.15" fill="url(#b)"/>
<circle cx="240.2" cy="74.5" r="3.15" fill="url(#b)"/>
<circle cx="243.7" cy="74.7" r="3.15" fill="url(#b)"/>
<circle cx="250.0" cy="77.0" r="3.15" fill="url(#b)"/>
<circle cx="254.3" cy="80.2" r="3.15" fill="url(#b)"/>
<circle cx="256.5" cy="84.3" r="3.15" fill="url(#b)"/>
<circle cx="258.0" cy="89.0" r="3.15" fill="url(#b)"/>
<circle cx="257.5" cy="95.0" r="3.15" fill="url(#b)"/>
<circle cx="235.4" cy="76.9" r="3.15" fill="url(#b)"/>
<circle cx="237.7" cy="79.6" r="3.15" fill="url(#b)"/>
<circle cx="240.2" cy="82.3" r="3.15" fill="url(#b)"/>
<circle cx="242.3" cy="84.6" r="3.15" fill="url(#b)"/>
<circle cx="243.3" cy="88.3" r="3.15" fill="url(#b)"/>
<circle cx="243.1" cy="92.0" r="3.15" fill="url(#b)"/>
<circle cx="243.5" cy="97.0" r="3.15" fill="url(#b)"/>
<circle cx="243.8" cy="101.5" r="3.15" fill="url(#b)"/>
<circle cx="128.2" cy="115.0" r="3.15" fill="url(#b)"/>
<circle cx="172.6" cy="117.8" r="3.15" fill="url(#b)"/>
<circle cx="183.6" cy="127.9" r="3.15" fill="url(#b)"/>
<circle cx="103.5" cy="139.7" r="3.15" fill="url(#b)"/>
<circle cx="176.7" cy="152.6" r="3.15" fill="url(#b)"/>
<circle cx="103.7" cy="173.8" r="3.15" fill="url(#b)"/>
<circle cx="269.2" cy="166.1" r="3.15" fill="url(#b)"/>
<circle cx="185.7" cy="120.3" r="3.15" fill="url(#b)"/>
<circle cx="206.0" cy="117.4" r="3.15" fill="url(#b)"/>
<circle cx="185.7" cy="126.6" r="3.15" fill="url(#b)"/>
<circle cx="273.5" cy="122.6" r="3.15" fill="url(#b)"/>
<circle cx="278.8" cy="131.1" r="3.15" fill="url(#b)"/>
<circle cx="276.3" cy="141.2" r="3.15" fill="url(#b)"/>
<circle cx="277.5" cy="154.9" r="3.15" fill="url(#b)"/>
<circle cx="71.0" cy="49.3" r="3.15" fill="url(#b)"/>
<circle cx="84.1" cy="49.6" r="3.15" fill="url(#b)"/>
<circle cx="96.7" cy="51.1" r="3.15" fill="url(#b)"/>
<circle cx="110.6" cy="51.1" r="3.15" fill="url(#b)"/>
<circle cx="134.8" cy="51.3" r="3.15" fill="url(#b)"/>
<circle cx="75.2" cy="55.3" r="3.15" fill="url(#b)"/>
<circle cx="84.3" cy="55.9" r="3.15" fill="url(#b)"/>
<circle cx="93.2" cy="56.2" r="3.15" fill="url(#b)"/>
<circle cx="110.3" cy="55.7" r="3.15" fill="url(#b)"/>
<circle cx="127.4" cy="55.3" r="3.15" fill="url(#b)"/>
<circle cx="134.9" cy="55.9" r="3.15" fill="url(#b)"/>
<circle cx="66.6" cy="55.3" r="3.15" fill="url(#b)"/>
<circle cx="71.7" cy="59.7" r="3.15" fill="url(#b)"/>
<circle cx="80.5" cy="61.0" r="3.15" fill="url(#b)"/>
<circle cx="110.9" cy="59.7" r="3.15" fill="url(#b)"/>
<circle cx="137.5" cy="67.9" r="3.15" fill="url(#b)"/>
<circle cx="60.3" cy="67.3" r="3.15" fill="url(#b)"/>
<circle cx="71.6" cy="72.7" r="3.15" fill="url(#b)"/>
<circle cx="136.9" cy="55.3" r="3.15" fill="url(#b)"/>
<circle cx="145.8" cy="54.0" r="3.15" fill="url(#b)"/>
<circle cx="154.6" cy="52.1" r="3.15" fill="url(#b)"/>
<circle cx="165.4" cy="53.4" r="3.15" fill="url(#b)"/>
<circle cx="175.5" cy="55.3" r="3.15" fill="url(#b)"/>
<circle cx="168.5" cy="63.5" r="3.15" fill="url(#b)"/>
<circle cx="179.3" cy="59.7" r="3.15" fill="url(#b)"/>
<circle cx="188.2" cy="58.5" r="3.15" fill="url(#b)"/>
<circle cx="193.2" cy="57.8" r="3.15" fill="url(#b)"/>
<circle cx="198.3" cy="57.8" r="3.15" fill="url(#b)"/>
<circle cx="142.6" cy="68.6" r="3.15" fill="url(#b)"/>
<circle cx="140.1" cy="66.1" r="3.15" fill="url(#b)"/>
<circle cx="154.0" cy="72.4" r="3.15" fill="url(#b)"/>
<circle cx="205.9" cy="55.9" r="3.15" fill="url(#b)"/>
<circle cx="218.6" cy="67.3" r="3.15" fill="url(#b)"/>
<circle cx="222.4" cy="69.2" r="3.15" fill="url(#b)"/>
<circle cx="236.3" cy="68.6" r="3.15" fill="url(#b)"/>
<circle cx="240.1" cy="70.5" r="3.15" fill="url(#b)"/>
<circle cx="69.1" cy="83.3" r="3.15" fill="url(#b)"/>
<circle cx="102.0" cy="90.3" r="3.15" fill="url(#b)"/>
<circle cx="113.4" cy="88.4" r="3.15" fill="url(#b)"/>
<circle cx="127.9" cy="87.8" r="3.15" fill="url(#b)"/>
<circle cx="123.8" cy="94.0" r="3.15" fill="url(#b)"/>
<circle cx="112.2" cy="99.7" r="3.15" fill="url(#b)"/>
<circle cx="121.0" cy="98.5" r="3.15" fill="url(#b)"/>
<circle cx="85.6" cy="93.4" r="3.15" fill="url(#b)"/>
<circle cx="129.9" cy="70.6" r="3.15" fill="url(#b)"/>
<circle cx="137.5" cy="78.9" r="3.15" fill="url(#b)"/>
<circle cx="118.5" cy="73.8" r="3.15" fill="url(#b)"/>
<circle cx="144.1" cy="73.2" r="3.15" fill="url(#b)"/>
<circle cx="140.9" cy="77.6" r="3.15" fill="url(#b)"/>
<circle cx="154.2" cy="77.6" r="3.15" fill="url(#b)"/>
<circle cx="164.3" cy="82.0" r="3.15" fill="url(#b)"/>
<circle cx="169.4" cy="78.9" r="3.15" fill="url(#b)"/>
<circle cx="179.5" cy="80.1" r="3.15" fill="url(#b)"/>
<circle cx="194.7" cy="82.0" r="3.15" fill="url(#b)"/>
<circle cx="204.8" cy="80.8" r="3.15" fill="url(#b)"/>
<circle cx="209.9" cy="82.7" r="3.15" fill="url(#b)"/>
<circle cx="186.0" cy="89.5" r="3.15" fill="url(#b)"/>
<circle cx="168.3" cy="99.8" r="3.15" fill="url(#b)"/>
<circle cx="183.3" cy="100.4" r="3.15" fill="url(#b)"/>
<circle cx="158.9" cy="92.5" r="3.15" fill="url(#b)"/>
<circle cx="140.3" cy="80.1" r="3.15" fill="url(#b)"/>
<circle cx="215.0" cy="80.8" r="3.15" fill="url(#b)"/>
<circle cx="227.7" cy="75.7" r="3.15" fill="url(#b)"/>
<circle cx="243.2" cy="90.1" r="3.15" fill="url(#b)"/>
<circle cx="243.8" cy="101.5" r="3.15" fill="url(#b)"/>
<circle cx="259.0" cy="95.1" r="3.15" fill="url(#b)"/>
<circle cx="284.9" cy="101.5" r="3.15" fill="url(#b)"/>
<circle cx="285.6" cy="107.2" r="3.15" fill="url(#b)"/>
<circle cx="153.6" cy="105.8" r="3.15" fill="url(#b)"/>
<circle cx="176.4" cy="110.7" r="3.15" fill="url(#b)"/>
<circle cx="179.3" cy="89.0" r="3.15" fill="url(#b)"/>
<circle cx="195.2" cy="106.8" r="3.15" fill="url(#b)"/>
<circle cx="199.1" cy="100.8" r="3.15" fill="url(#b)"/>
<circle cx="213.0" cy="90.9" r="3.15" fill="url(#b)"/>
<circle cx="224.8" cy="91.9" r="3.15" fill="url(#b)"/>
<circle cx="236.7" cy="89.0" r="3.15" fill="url(#b)"/>
<circle cx="238.7" cy="94.9" r="3.15" fill="url(#b)"/>
<circle cx="128.9" cy="112.7" r="3.15" fill="url(#b)"/>
<circle cx="151.6" cy="87.0" r="3.15" fill="url(#b)"/>
<circle cx="68.7" cy="105.9" r="3.15" fill="url(#b)"/>
<circle cx="280.1" cy="123.0" r="3.15" fill="url(#b)"/>
<circle cx="267.7" cy="84.8" r="3.15" fill="url(#o)"/>
<circle cx="272.3" cy="85.0" r="3.15" fill="url(#o)"/>
<circle cx="276.4" cy="85.0" r="3.15" fill="url(#o)"/>
<circle cx="270.3" cy="89.2" r="3.15" fill="url(#o)"/>
<circle cx="273.2" cy="89.2" r="3.15" fill="url(#o)"/>
<circle cx="277.3" cy="88.9" r="3.15" fill="url(#o)"/>
<circle cx="267.9" cy="92.3" r="3.15" fill="url(#o)"/>
<circle cx="271.4" cy="91.7" r="3.15" fill="url(#o)"/>
<circle cx="275.6" cy="92.2" r="3.15" fill="url(#o)"/>
<circle cx="279.7" cy="91.6" r="3.15" fill="url(#o)"/>
<circle cx="266.7" cy="95.3" r="3.15" fill="url(#o)"/>
<circle cx="270.1" cy="95.9" r="3.15" fill="url(#o)"/>
<circle cx="273.9" cy="95.3" r="3.15" fill="url(#o)"/>
<circle cx="277.0" cy="94.9" r="3.15" fill="url(#o)"/>
<circle cx="268.0" cy="98.6" r="3.15" fill="url(#o)"/>
<circle cx="271.7" cy="99.5" r="3.15" fill="url(#o)"/>
<circle cx="276.2" cy="99.5" r="3.15" fill="url(#o)"/>
<circle cx="279.0" cy="98.5" r="3.15" fill="url(#o)"/>
<circle cx="270.0" cy="102.8" r="3.15" fill="url(#o)"/>
<circle cx="274.4" cy="102.8" r="3.15" fill="url(#o)"/>
<circle cx="277.8" cy="102.1" r="3.15" fill="url(#o)"/>
<circle cx="282.2" cy="101.9" r="3.15" fill="url(#o)"/>
<circle cx="272.1" cy="105.5" r="3.15" fill="url(#o)"/>
<circle cx="275.3" cy="106.3" r="3.15" fill="url(#o)"/>
<circle cx="279.3" cy="105.0" r="3.15" fill="url(#o)"/>
<circle cx="270.5" cy="109.5" r="3.15" fill="url(#o)"/>
<circle cx="274.2" cy="109.3" r="3.15" fill="url(#o)"/>
<circle cx="278.4" cy="108.4" r="3.15" fill="url(#o)"/>
<circle cx="282.0" cy="109.6" r="3.15" fill="url(#o)"/>
<circle cx="272.2" cy="111.8" r="3.15" fill="url(#o)"/>
<circle cx="275.4" cy="111.9" r="3.15" fill="url(#o)"/>
<circle cx="279.2" cy="112.0" r="3.15" fill="url(#o)"/>
<circle cx="273.2" cy="116.4" r="3.15" fill="url(#o)"/>
<circle cx="278.3" cy="116.3" r="3.15" fill="url(#o)"/>
<circle cx="281.1" cy="115.7" r="3.15" fill="url(#o)"/>
<circle cx="272.0" cy="119.1" r="3.15" fill="url(#o)"/>
<circle cx="276.2" cy="119.1" r="3.15" fill="url(#o)"/>
<circle cx="279.1" cy="118.8" r="3.15" fill="url(#o)"/>
<circle cx="169.6" cy="57.5" r="3.15" fill="url(#o)"/>
<circle cx="151.2" cy="59.1" r="3.15" fill="url(#o)"/>
<circle cx="162.8" cy="61.0" r="3.15" fill="url(#o)"/>
<circle cx="173.2" cy="60.1" r="3.15" fill="url(#o)"/>
<circle cx="183.5" cy="61.4" r="3.15" fill="url(#o)"/>
<circle cx="186.0" cy="61.6" r="3.15" fill="url(#o)"/>
<circle cx="207.6" cy="60.2" r="3.15" fill="url(#o)"/>
<circle cx="211.4" cy="61.0" r="3.15" fill="url(#o)"/>
<circle cx="141.1" cy="64.1" r="3.15" fill="url(#o)"/>
<circle cx="151.1" cy="66.0" r="3.15" fill="url(#o)"/>
<circle cx="155.0" cy="64.8" r="3.15" fill="url(#o)"/>
<circle cx="180.3" cy="64.9" r="3.15" fill="url(#o)"/>
<circle cx="185.6" cy="63.5" r="3.15" fill="url(#o)"/>
<circle cx="142.2" cy="68.8" r="3.15" fill="url(#o)"/>
<circle cx="147.6" cy="68.7" r="3.15" fill="url(#o)"/>
<circle cx="157.0" cy="68.8" r="3.15" fill="url(#o)"/>
<circle cx="163.4" cy="70.2" r="3.15" fill="url(#o)"/>
<circle cx="168.5" cy="67.7" r="3.15" fill="url(#o)"/>
<circle cx="177.3" cy="69.4" r="3.15" fill="url(#o)"/>
<circle cx="182.6" cy="67.7" r="3.15" fill="url(#o)"/>
<circle cx="193.9" cy="69.8" r="3.15" fill="url(#o)"/>
<circle cx="197.9" cy="69.9" r="3.15" fill="url(#o)"/>
<circle cx="203.7" cy="67.6" r="3.15" fill="url(#o)"/>
<circle cx="212.6" cy="70.3" r="3.15" fill="url(#o)"/>
<circle cx="155.3" cy="74.7" r="3.15" fill="url(#o)"/>
<circle cx="159.3" cy="73.2" r="3.15" fill="url(#o)"/>
<circle cx="174.2" cy="72.1" r="3.15" fill="url(#o)"/>
<circle cx="181.0" cy="73.6" r="3.15" fill="url(#o)"/>
<circle cx="185.5" cy="72.4" r="3.15" fill="url(#o)"/>
<circle cx="189.9" cy="73.5" r="3.15" fill="url(#o)"/>
<circle cx="199.2" cy="73.4" r="3.15" fill="url(#o)"/>
<circle cx="205.3" cy="71.9" r="3.15" fill="url(#o)"/>
<circle cx="205.3" cy="57.5" r="3.15" fill="url(#o)"/>
<circle cx="209.2" cy="58.5" r="3.15" fill="url(#o)"/>
<circle cx="213.8" cy="59.2" r="3.15" fill="url(#o)"/>
<circle cx="216.5" cy="60.1" r="3.15" fill="url(#o)"/>
<circle cx="219.2" cy="60.3" r="3.15" fill="url(#o)"/>
<circle cx="222.7" cy="61.2" r="3.15" fill="url(#o)"/>
<circle cx="225.1" cy="61.5" r="3.15" fill="url(#o)"/>
<circle cx="227.9" cy="62.6" r="3.15" fill="url(#o)"/>
<circle cx="231.0" cy="63.2" r="3.15" fill="url(#o)"/>
<circle cx="234.2" cy="63.4" r="3.15" fill="url(#o)"/>
<circle cx="236.9" cy="63.7" r="3.15" fill="url(#o)"/>
<circle cx="240.2" cy="64.3" r="3.15" fill="url(#o)"/>
<circle cx="244.1" cy="65.1" r="3.15" fill="url(#o)"/>
<circle cx="248.4" cy="66.4" r="3.15" fill="url(#o)"/>
<circle cx="252.3" cy="67.6" r="3.15" fill="url(#o)"/>
<circle cx="255.5" cy="68.4" r="3.15" fill="url(#o)"/>
<circle cx="258.4" cy="70.1" r="3.15" fill="url(#o)"/>
<circle cx="261.4" cy="71.4" r="3.15" fill="url(#o)"/>
<circle cx="264.8" cy="73.8" r="3.15" fill="url(#o)"/>
<circle cx="268.8" cy="76.6" r="3.15" fill="url(#o)"/>
<circle cx="271.8" cy="79.3" r="3.15" fill="url(#o)"/>
<circle cx="274.8" cy="82.5" r="3.15" fill="url(#o)"/>
<circle cx="277.0" cy="85.8" r="3.15" fill="url(#o)"/>
<circle cx="279.5" cy="89.0" r="3.15" fill="url(#o)"/>
<circle cx="205.0" cy="60.3" r="3.15" fill="url(#o)"/>
<circle cx="209.5" cy="60.7" r="3.15" fill="url(#o)"/>
<circle cx="213.8" cy="61.3" r="3.15" fill="url(#o)"/>
<circle cx="218.2" cy="62.0" r="3.15" fill="url(#o)"/>
<circle cx="221.8" cy="62.8" r="3.15" fill="url(#o)"/>
<circle cx="224.9" cy="63.9" r="3.15" fill="url(#o)"/>
<circle cx="227.8" cy="64.7" r="3.15" fill="url(#o)"/>
<circle cx="231.6" cy="64.8" r="3.15" fill="url(#o)"/>
<circle cx="236.3" cy="65.6" r="3.15" fill="url(#o)"/>
<circle cx="240.4" cy="66.2" r="3.15" fill="url(#o)"/>
<circle cx="243.7" cy="67.2" r="3.15" fill="url(#o)"/>
<circle cx="247.2" cy="68.7" r="3.15" fill="url(#o)"/>
<circle cx="251.0" cy="69.4" r="3.15" fill="url(#o)"/>
<circle cx="253.9" cy="70.8" r="3.15" fill="url(#o)"/>
<circle cx="256.6" cy="72.4" r="3.15" fill="url(#o)"/>
<circle cx="259.8" cy="73.8" r="3.15" fill="url(#o)"/>
<circle cx="263.1" cy="76.1" r="3.15" fill="url(#o)"/>
<circle cx="266.3" cy="78.2" r="3.15" fill="url(#o)"/>
<circle cx="269.8" cy="81.5" r="3.15" fill="url(#o)"/>
<circle cx="272.4" cy="84.2" r="3.15" fill="url(#o)"/>
<circle cx="274.4" cy="86.9" r="3.15" fill="url(#o)"/>
<circle cx="276.0" cy="90.0" r="3.15" fill="url(#o)"/>
<circle cx="103.5" cy="115.0" r="3.15" fill="url(#o)"/>
<circle cx="178.0" cy="117.8" r="3.15" fill="url(#o)"/>
<circle cx="101.7" cy="125.4" r="3.15" fill="url(#o)"/>
<circle cx="160.7" cy="121.8" r="3.15" fill="url(#o)"/>
<circle cx="174.5" cy="123.7" r="3.15" fill="url(#o)"/>
<circle cx="143.9" cy="134.1" r="3.15" fill="url(#o)"/>
<circle cx="277.2" cy="163.3" r="3.15" fill="url(#o)"/>
<circle cx="219.2" cy="111.4" r="3.15" fill="url(#o)"/>
<circle cx="241.2" cy="120.4" r="3.15" fill="url(#o)"/>
<circle cx="196.3" cy="127.6" r="3.15" fill="url(#o)"/>
<circle cx="258.4" cy="117.4" r="3.15" fill="url(#o)"/>
<circle cx="271.4" cy="114.2" r="3.15" fill="url(#o)"/>
<circle cx="276.7" cy="111.0" r="3.15" fill="url(#o)"/>
<circle cx="281.9" cy="115.2" r="3.15" fill="url(#o)"/>
<circle cx="278.8" cy="119.4" r="3.15" fill="url(#o)"/>
<circle cx="285.1" cy="113.1" r="3.15" fill="url(#o)"/>
<circle cx="274.6" cy="118.4" r="3.15" fill="url(#o)"/>
<circle cx="274.1" cy="133.4" r="3.15" fill="url(#o)"/>
<circle cx="270.4" cy="139.5" r="3.15" fill="url(#o)"/>
<circle cx="277.7" cy="161.4" r="3.15" fill="url(#o)"/>
<circle cx="73.9" cy="49.8" r="3.15" fill="url(#o)"/>
<circle cx="88.4" cy="50.2" r="3.15" fill="url(#o)"/>
<circle cx="117.9" cy="50.6" r="3.15" fill="url(#o)"/>
<circle cx="68.5" cy="55.3" r="3.15" fill="url(#o)"/>
<circle cx="79.3" cy="55.3" r="3.15" fill="url(#o)"/>
<circle cx="89.4" cy="55.7" r="3.15" fill="url(#o)"/>
<circle cx="99.5" cy="56.9" r="3.15" fill="url(#o)"/>
<circle cx="104.6" cy="56.9" r="3.15" fill="url(#o)"/>
<circle cx="118.5" cy="57.2" r="3.15" fill="url(#o)"/>
<circle cx="127.4" cy="58.5" r="3.15" fill="url(#o)"/>
<circle cx="132.4" cy="58.5" r="3.15" fill="url(#o)"/>
<circle cx="136.7" cy="59.1" r="3.15" fill="url(#o)"/>
<circle cx="68.5" cy="61.0" r="3.15" fill="url(#o)"/>
<circle cx="76.7" cy="61.6" r="3.15" fill="url(#o)"/>
<circle cx="91.3" cy="63.5" r="3.15" fill="url(#o)"/>
<circle cx="99.5" cy="59.7" r="3.15" fill="url(#o)"/>
<circle cx="107.1" cy="59.7" r="3.15" fill="url(#o)"/>
<circle cx="114.7" cy="59.7" r="3.15" fill="url(#o)"/>
<circle cx="61.5" cy="64.8" r="3.15" fill="url(#o)"/>
<circle cx="82.4" cy="64.2" r="3.15" fill="url(#o)"/>
<circle cx="99.5" cy="64.8" r="3.15" fill="url(#o)"/>
<circle cx="103.3" cy="65.4" r="3.15" fill="url(#o)"/>
<circle cx="109.6" cy="66.1" r="3.15" fill="url(#o)"/>
<circle cx="117.2" cy="64.8" r="3.15" fill="url(#o)"/>
<circle cx="121.0" cy="65.4" r="3.15" fill="url(#o)"/>
<circle cx="124.8" cy="63.5" r="3.15" fill="url(#o)"/>
<circle cx="129.9" cy="64.2" r="3.15" fill="url(#o)"/>
<circle cx="134.9" cy="64.2" r="3.15" fill="url(#o)"/>
<circle cx="72.3" cy="70.6" r="3.15" fill="url(#o)"/>
<circle cx="77.4" cy="67.3" r="3.15" fill="url(#o)"/>
<circle cx="92.5" cy="68.6" r="3.15" fill="url(#o)"/>
<circle cx="95.1" cy="70.6" r="3.15" fill="url(#o)"/>
<circle cx="100.8" cy="68.6" r="3.15" fill="url(#o)"/>
<circle cx="104.6" cy="71.2" r="3.15" fill="url(#o)"/>
<circle cx="112.2" cy="71.7" r="3.15" fill="url(#o)"/>
<circle cx="118.5" cy="68.6" r="3.15" fill="url(#o)"/>
<circle cx="124.8" cy="69.8" r="3.15" fill="url(#o)"/>
<circle cx="129.9" cy="69.2" r="3.15" fill="url(#o)"/>
<circle cx="145.1" cy="51.5" r="3.15" fill="url(#o)"/>
<circle cx="158.4" cy="52.1" r="3.15" fill="url(#o)"/>
<circle cx="170.4" cy="52.1" r="3.15" fill="url(#o)"/>
<circle cx="173.0" cy="55.3" r="3.15" fill="url(#o)"/>
<circle cx="182.5" cy="53.4" r="3.15" fill="url(#o)"/>
<circle cx="183.1" cy="56.6" r="3.15" fill="url(#o)"/>
<circle cx="204.0" cy="55.3" r="3.15" fill="url(#o)"/>
<circle cx="210.9" cy="57.2" r="3.15" fill="url(#o)"/>
<circle cx="152.7" cy="55.3" r="3.15" fill="url(#o)"/>
<circle cx="161.6" cy="55.3" r="3.15" fill="url(#o)"/>
<circle cx="141.3" cy="59.7" r="3.15" fill="url(#o)"/>
<circle cx="147.7" cy="59.1" r="3.15" fill="url(#o)"/>
<circle cx="156.5" cy="59.7" r="3.15" fill="url(#o)"/>
<circle cx="165.4" cy="60.4" r="3.15" fill="url(#o)"/>
<circle cx="174.2" cy="63.5" r="3.15" fill="url(#o)"/>
<circle cx="137.5" cy="65.4" r="3.15" fill="url(#o)"/>
<circle cx="148.3" cy="65.4" r="3.15" fill="url(#o)"/>
<circle cx="152.7" cy="64.2" r="3.15" fill="url(#o)"/>
<circle cx="159.7" cy="62.9" r="3.15" fill="url(#o)"/>
<circle cx="164.7" cy="66.1" r="3.15" fill="url(#o)"/>
<circle cx="169.2" cy="69.2" r="3.15" fill="url(#o)"/>
<circle cx="159.1" cy="69.8" r="3.15" fill="url(#o)"/>
<circle cx="149.0" cy="71.2" r="3.15" fill="url(#o)"/>
<circle cx="179.3" cy="67.3" r="3.15" fill="url(#o)"/>
<circle cx="184.4" cy="64.8" r="3.15" fill="url(#o)"/>
<circle cx="189.4" cy="62.3" r="3.15" fill="url(#o)"/>
<circle cx="192.0" cy="61.0" r="3.15" fill="url(#o)"/>
<circle cx="186.9" cy="68.6" r="3.15" fill="url(#o)"/>
<circle cx="192.0" cy="68.6" r="3.15" fill="url(#o)"/>
<circle cx="197.0" cy="64.8" r="3.15" fill="url(#o)"/>
<circle cx="199.6" cy="61.0" r="3.15" fill="url(#o)"/>
<circle cx="204.6" cy="61.0" r="3.15" fill="url(#o)"/>
<circle cx="209.7" cy="62.3" r="3.15" fill="url(#o)"/>
<circle cx="213.2" cy="61.0" r="3.15" fill="url(#o)"/>
<circle cx="198.3" cy="70.5" r="3.15" fill="url(#o)"/>
<circle cx="203.4" cy="67.3" r="3.15" fill="url(#o)"/>
<circle cx="208.4" cy="69.2" r="3.15" fill="url(#o)"/>
<circle cx="212.9" cy="67.9" r="3.15" fill="url(#o)"/>
<circle cx="180.6" cy="71.7" r="3.15" fill="url(#o)"/>
<circle cx="186.9" cy="72.4" r="3.15" fill="url(#o)"/>
<circle cx="166.7" cy="73.1" r="3.15" fill="url(#o)"/>
<circle cx="214.2" cy="56.6" r="3.15" fill="url(#o)"/>
<circle cx="216.1" cy="64.8" r="3.15" fill="url(#o)"/>
<circle cx="219.9" cy="58.5" r="3.15" fill="url(#o)"/>
<circle cx="223.7" cy="58.5" r="3.15" fill="url(#o)"/>
<circle cx="223.0" cy="65.4" r="3.15" fill="url(#o)"/>
<circle cx="227.5" cy="59.7" r="3.15" fill="url(#o)"/>
<circle cx="231.3" cy="61.0" r="3.15" fill="url(#o)"/>
<circle cx="228.2" cy="69.3" r="3.15" fill="url(#o)"/>
<circle cx="230.0" cy="72.4" r="3.15" fill="url(#o)"/>
<circle cx="214.2" cy="72.5" r="3.15" fill="url(#o)"/>
<circle cx="218.6" cy="72.4" r="3.15" fill="url(#o)"/>
<circle cx="69.2" cy="80.0" r="3.15" fill="url(#o)"/>
<circle cx="86.2" cy="82.7" r="3.15" fill="url(#o)"/>
<circle cx="88.7" cy="77.0" r="3.15" fill="url(#o)"/>
<circle cx="84.9" cy="90.9" r="3.15" fill="url(#o)"/>
<circle cx="68.6" cy="98.2" r="3.15" fill="url(#o)"/>
<circle cx="99.5" cy="71.3" r="3.15" fill="url(#o)"/>
<circle cx="109.6" cy="73.2" r="3.15" fill="url(#o)"/>
<circle cx="113.4" cy="75.1" r="3.15" fill="url(#o)"/>
<circle cx="107.1" cy="77.6" r="3.15" fill="url(#o)"/>
<circle cx="110.9" cy="79.5" r="3.15" fill="url(#o)"/>
<circle cx="116.0" cy="77.0" r="3.15" fill="url(#o)"/>
<circle cx="119.8" cy="77.0" r="3.15" fill="url(#o)"/>
<circle cx="122.3" cy="80.1" r="3.15" fill="url(#o)"/>
<circle cx="124.8" cy="72.5" r="3.15" fill="url(#o)"/>
<circle cx="128.6" cy="74.4" r="3.15" fill="url(#o)"/>
<circle cx="129.9" cy="77.6" r="3.15" fill="url(#o)"/>
<circle cx="127.4" cy="81.4" r="3.15" fill="url(#o)"/>
<circle cx="131.2" cy="82.7" r="3.15" fill="url(#o)"/>
<circle cx="105.8" cy="81.4" r="3.15" fill="url(#o)"/>
<circle cx="113.4" cy="82.0" r="3.15" fill="url(#o)"/>
<circle cx="117.9" cy="83.3" r="3.15" fill="url(#o)"/>
<circle cx="119.8" cy="86.5" r="3.15" fill="url(#o)"/>
<circle cx="122.6" cy="89.3" r="3.15" fill="url(#o)"/>
<circle cx="117.2" cy="89.0" r="3.15" fill="url(#o)"/>
<circle cx="103.9" cy="89.0" r="3.15" fill="url(#o)"/>
<circle cx="102.0" cy="94.1" r="3.15" fill="url(#o)"/>
<circle cx="104.6" cy="95.3" r="3.15" fill="url(#o)"/>
<circle cx="124.4" cy="100.1" r="3.15" fill="url(#o)"/>
<circle cx="134.9" cy="81.4" r="3.15" fill="url(#o)"/>
<circle cx="159.3" cy="75.1" r="3.15" fill="url(#o)"/>
<circle cx="163.1" cy="75.1" r="3.15" fill="url(#o)"/>
<circle cx="170.6" cy="73.8" r="3.15" fill="url(#o)"/>
<circle cx="174.4" cy="75.1" r="3.15" fill="url(#o)"/>
<circle cx="178.2" cy="72.5" r="3.15" fill="url(#o)"/>
<circle cx="183.3" cy="75.1" r="3.15" fill="url(#o)"/>
<circle cx="187.1" cy="78.9" r="3.15" fill="url(#o)"/>
<circle cx="194.7" cy="77.6" r="3.15" fill="url(#o)"/>
<circle cx="198.5" cy="72.5" r="3.15" fill="url(#o)"/>
<circle cx="204.8" cy="71.3" r="3.15" fill="url(#o)"/>
<circle cx="209.9" cy="75.1" r="3.15" fill="url(#o)"/>
<circle cx="213.7" cy="77.6" r="3.15" fill="url(#o)"/>
<circle cx="147.9" cy="78.9" r="3.15" fill="url(#o)"/>
<circle cx="156.7" cy="82.7" r="3.15" fill="url(#o)"/>
<circle cx="165.5" cy="87.0" r="3.15" fill="url(#o)"/>
<circle cx="172.5" cy="82.7" r="3.15" fill="url(#o)"/>
<circle cx="172.8" cy="88.2" r="3.15" fill="url(#o)"/>
<circle cx="179.5" cy="86.5" r="3.15" fill="url(#o)"/>
<circle cx="192.8" cy="85.8" r="3.15" fill="url(#o)"/>
<circle cx="197.2" cy="90.9" r="3.15" fill="url(#o)"/>
<circle cx="199.1" cy="95.3" r="3.15" fill="url(#o)"/>
<circle cx="188.6" cy="92.0" r="3.15" fill="url(#o)"/>
<circle cx="176.0" cy="96.7" r="3.15" fill="url(#o)"/>
<circle cx="155.5" cy="88.4" r="3.15" fill="url(#o)"/>
<circle cx="143.9" cy="90.9" r="3.15" fill="url(#o)"/>
<circle cx="142.8" cy="95.3" r="3.15" fill="url(#o)"/>
<circle cx="154.7" cy="95.4" r="3.15" fill="url(#o)"/>
<circle cx="160.5" cy="99.0" r="3.15" fill="url(#o)"/>
<circle cx="177.0" cy="100.4" r="3.15" fill="url(#o)"/>
<circle cx="212.7" cy="88.5" r="3.15" fill="url(#o)"/>
<circle cx="216.2" cy="86.5" r="3.15" fill="url(#o)"/>
<circle cx="214.9" cy="97.8" r="3.15" fill="url(#o)"/>
<circle cx="209.9" cy="77.6" r="3.15" fill="url(#o)"/>
<circle cx="233.4" cy="74.5" r="3.15" fill="url(#o)"/>
<circle cx="253.0" cy="77.0" r="3.15" fill="url(#o)"/>
<circle cx="235.9" cy="85.2" r="3.15" fill="url(#o)"/>
<circle cx="222.6" cy="85.2" r="3.15" fill="url(#o)"/>
<circle cx="227.0" cy="85.2" r="3.15" fill="url(#o)"/>
<circle cx="220.1" cy="79.5" r="3.15" fill="url(#o)"/>
<circle cx="224.5" cy="78.9" r="3.15" fill="url(#o)"/>
<circle cx="217.5" cy="75.1" r="3.15" fill="url(#o)"/>
<circle cx="222.0" cy="74.5" r="3.15" fill="url(#o)"/>
<circle cx="215.0" cy="70.0" r="3.15" fill="url(#o)"/>
<circle cx="256.5" cy="90.1" r="3.15" fill="url(#o)"/>
<circle cx="257.7" cy="97.0" r="3.15" fill="url(#o)"/>
<circle cx="259.0" cy="105.3" r="3.15" fill="url(#o)"/>
<circle cx="241.0" cy="93.9" r="3.15" fill="url(#o)"/>
<circle cx="241.5" cy="99.4" r="3.15" fill="url(#o)"/>
<circle cx="241.3" cy="107.8" r="3.15" fill="url(#o)"/>
<circle cx="144.7" cy="95.9" r="3.15" fill="url(#o)"/>
<circle cx="159.6" cy="103.8" r="3.15" fill="url(#o)"/>
<circle cx="157.6" cy="109.7" r="3.15" fill="url(#o)"/>
<circle cx="154.6" cy="112.7" r="3.15" fill="url(#o)"/>
<circle cx="177.4" cy="87.0" r="3.15" fill="url(#o)"/>
<circle cx="175.4" cy="102.8" r="3.15" fill="url(#o)"/>
<circle cx="177.4" cy="106.8" r="3.15" fill="url(#o)"/>
<circle cx="179.3" cy="110.7" r="3.15" fill="url(#o)"/>
<circle cx="197.1" cy="93.9" r="3.15" fill="url(#o)"/>
<circle cx="199.1" cy="105.8" r="3.15" fill="url(#o)"/>
<circle cx="205.0" cy="88.0" r="3.15" fill="url(#o)"/>
<circle cx="218.9" cy="89.0" r="3.15" fill="url(#o)"/>
<circle cx="225.8" cy="87.0" r="3.15" fill="url(#o)"/>
<circle cx="218.9" cy="96.9" r="3.15" fill="url(#o)"/>
<circle cx="226.8" cy="97.9" r="3.15" fill="url(#o)"/>
<circle cx="238.7" cy="104.8" r="3.15" fill="url(#o)"/>
<circle cx="167.5" cy="92.9" r="3.15" fill="url(#o)"/>
<circle cx="189.2" cy="85.0" r="3.15" fill="url(#o)"/>
</g><g clip-path="url(#cb)">
<circle cx="415.6" cy="112.5" r="3.15" fill="url(#r)"/>
<circle cx="421.0" cy="112.0" r="3.15" fill="url(#r)"/>
<circle cx="424.7" cy="110.7" r="3.15" fill="url(#r)"/>
<circle cx="430.3" cy="111.3" r="3.15" fill="url(#r)"/>
<circle cx="432.8" cy="112.0" r="3.15" fill="url(#r)"/>
<circle cx="452.0" cy="111.2" r="3.15" fill="url(#r)"/>
<circle cx="456.9" cy="112.5" r="3.15" fill="url(#r)"/>
<circle cx="461.1" cy="110.9" r="3.15" fill="url(#r)"/>
<circle cx="463.4" cy="112.3" r="3.15" fill="url(#r)"/>
<circle cx="414.8" cy="114.9" r="3.15" fill="url(#r)"/>
<circle cx="419.0" cy="114.5" r="3.15" fill="url(#r)"/>
<circle cx="422.5" cy="116.3" r="3.15" fill="url(#r)"/>
<circle cx="426.6" cy="114.6" r="3.15" fill="url(#r)"/>
<circle cx="431.4" cy="116.7" r="3.15" fill="url(#r)"/>
<circle cx="436.6" cy="116.5" r="3.15" fill="url(#r)"/>
<circle cx="440.3" cy="114.5" r="3.15" fill="url(#r)"/>
<circle cx="444.6" cy="115.7" r="3.15" fill="url(#r)"/>
<circle cx="448.2" cy="116.3" r="3.15" fill="url(#r)"/>
<circle cx="454.1" cy="116.4" r="3.15" fill="url(#r)"/>
<circle cx="458.1" cy="116.8" r="3.15" fill="url(#r)"/>
<circle cx="462.5" cy="115.0" r="3.15" fill="url(#r)"/>
<circle cx="466.4" cy="115.4" r="3.15" fill="url(#r)"/>
<circle cx="419.5" cy="120.0" r="3.15" fill="url(#r)"/>
<circle cx="425.2" cy="118.4" r="3.15" fill="url(#r)"/>
<circle cx="429.2" cy="118.6" r="3.15" fill="url(#r)"/>
<circle cx="432.5" cy="120.5" r="3.15" fill="url(#r)"/>
<circle cx="438.5" cy="120.6" r="3.15" fill="url(#r)"/>
<circle cx="442.0" cy="118.8" r="3.15" fill="url(#r)"/>
<circle cx="445.8" cy="120.1" r="3.15" fill="url(#r)"/>
<circle cx="450.9" cy="118.6" r="3.15" fill="url(#r)"/>
<circle cx="456.7" cy="120.5" r="3.15" fill="url(#r)"/>
<circle cx="460.9" cy="120.3" r="3.15" fill="url(#r)"/>
<circle cx="464.1" cy="118.6" r="3.15" fill="url(#r)"/>
<circle cx="468.5" cy="119.1" r="3.15" fill="url(#r)"/>
<circle cx="473.1" cy="120.3" r="3.15" fill="url(#r)"/>
<circle cx="476.6" cy="119.6" r="3.15" fill="url(#r)"/>
<circle cx="422.0" cy="122.2" r="3.15" fill="url(#r)"/>
<circle cx="427.1" cy="124.5" r="3.15" fill="url(#r)"/>
<circle cx="432.6" cy="124.5" r="3.15" fill="url(#r)"/>
<circle cx="436.3" cy="124.1" r="3.15" fill="url(#r)"/>
<circle cx="440.9" cy="123.5" r="3.15" fill="url(#r)"/>
<circle cx="445.0" cy="124.4" r="3.15" fill="url(#r)"/>
<circle cx="449.6" cy="122.7" r="3.15" fill="url(#r)"/>
<circle cx="454.6" cy="122.0" r="3.15" fill="url(#r)"/>
<circle cx="461.3" cy="123.7" r="3.15" fill="url(#r)"/>
<circle cx="467.0" cy="123.0" r="3.15" fill="url(#r)"/>
<circle cx="471.4" cy="123.0" r="3.15" fill="url(#r)"/>
<circle cx="474.8" cy="124.3" r="3.15" fill="url(#r)"/>
<circle cx="479.0" cy="124.2" r="3.15" fill="url(#r)"/>
<circle cx="483.3" cy="123.3" r="3.15" fill="url(#r)"/>
<circle cx="426.0" cy="127.4" r="3.15" fill="url(#r)"/>
<circle cx="429.6" cy="128.1" r="3.15" fill="url(#r)"/>
<circle cx="432.9" cy="127.7" r="3.15" fill="url(#r)"/>
<circle cx="438.9" cy="127.5" r="3.15" fill="url(#r)"/>
<circle cx="441.6" cy="126.7" r="3.15" fill="url(#r)"/>
<circle cx="448.2" cy="127.6" r="3.15" fill="url(#r)"/>
<circle cx="451.7" cy="126.0" r="3.15" fill="url(#r)"/>
<circle cx="468.9" cy="127.9" r="3.15" fill="url(#r)"/>
<circle cx="472.4" cy="125.8" r="3.15" fill="url(#r)"/>
<circle cx="478.6" cy="126.2" r="3.15" fill="url(#r)"/>
<circle cx="481.7" cy="127.5" r="3.15" fill="url(#r)"/>
<circle cx="485.7" cy="128.0" r="3.15" fill="url(#r)"/>
<circle cx="491.5" cy="127.9" r="3.15" fill="url(#r)"/>
<circle cx="494.1" cy="126.6" r="3.15" fill="url(#r)"/>
<circle cx="499.8" cy="128.0" r="3.15" fill="url(#r)"/>
<circle cx="431.0" cy="130.3" r="3.15" fill="url(#r)"/>
<circle cx="435.4" cy="131.0" r="3.15" fill="url(#r)"/>
<circle cx="443.6" cy="131.0" r="3.15" fill="url(#r)"/>
<circle cx="467.9" cy="131.3" r="3.15" fill="url(#r)"/>
<circle cx="471.9" cy="131.5" r="3.15" fill="url(#r)"/>
<circle cx="476.0" cy="130.5" r="3.15" fill="url(#r)"/>
<circle cx="479.8" cy="129.7" r="3.15" fill="url(#r)"/>
<circle cx="483.9" cy="132.1" r="3.15" fill="url(#r)"/>
<circle cx="488.5" cy="130.2" r="3.15" fill="url(#r)"/>
<circle cx="492.8" cy="129.9" r="3.15" fill="url(#r)"/>
<circle cx="498.6" cy="130.7" r="3.15" fill="url(#r)"/>
<circle cx="502.2" cy="130.3" r="3.15" fill="url(#r)"/>
<circle cx="505.3" cy="130.3" r="3.15" fill="url(#r)"/>
<circle cx="511.4" cy="131.0" r="3.15" fill="url(#r)"/>
<circle cx="514.8" cy="132.0" r="3.15" fill="url(#r)"/>
<circle cx="434.1" cy="133.6" r="3.15" fill="url(#r)"/>
<circle cx="468.6" cy="133.5" r="3.15" fill="url(#r)"/>
<circle cx="472.2" cy="135.0" r="3.15" fill="url(#r)"/>
<circle cx="477.8" cy="134.9" r="3.15" fill="url(#r)"/>
<circle cx="482.1" cy="133.4" r="3.15" fill="url(#r)"/>
<circle cx="486.8" cy="135.9" r="3.15" fill="url(#r)"/>
<circle cx="491.3" cy="135.3" r="3.15" fill="url(#r)"/>
<circle cx="494.3" cy="133.8" r="3.15" fill="url(#r)"/>
<circle cx="500.5" cy="133.6" r="3.15" fill="url(#r)"/>
<circle cx="504.0" cy="134.8" r="3.15" fill="url(#r)"/>
<circle cx="508.7" cy="135.1" r="3.15" fill="url(#r)"/>
<circle cx="512.6" cy="135.3" r="3.15" fill="url(#r)"/>
<circle cx="517.9" cy="135.4" r="3.15" fill="url(#r)"/>
<circle cx="521.3" cy="135.4" r="3.15" fill="url(#r)"/>
<circle cx="526.1" cy="134.1" r="3.15" fill="url(#r)"/>
<circle cx="533.7" cy="134.6" r="3.15" fill="url(#r)"/>
<circle cx="479.8" cy="139.6" r="3.15" fill="url(#r)"/>
<circle cx="484.7" cy="137.8" r="3.15" fill="url(#r)"/>
<circle cx="488.2" cy="138.3" r="3.15" fill="url(#r)"/>
<circle cx="492.4" cy="139.2" r="3.15" fill="url(#r)"/>
<circle cx="497.1" cy="139.8" r="3.15" fill="url(#r)"/>
<circle cx="502.2" cy="137.6" r="3.15" fill="url(#r)"/>
<circle cx="507.4" cy="137.9" r="3.15" fill="url(#r)"/>
<circle cx="511.6" cy="137.9" r="3.15" fill="url(#r)"/>
<circle cx="515.2" cy="139.5" r="3.15" fill="url(#r)"/>
<circle cx="520.1" cy="138.7" r="3.15" fill="url(#r)"/>
<circle cx="524.2" cy="139.5" r="3.15" fill="url(#r)"/>
<circle cx="529.4" cy="138.1" r="3.15" fill="url(#r)"/>
<circle cx="533.7" cy="137.7" r="3.15" fill="url(#r)"/>
<circle cx="538.5" cy="138.0" r="3.15" fill="url(#r)"/>
<circle cx="540.6" cy="139.7" r="3.15" fill="url(#r)"/>
<circle cx="486.2" cy="141.6" r="3.15" fill="url(#r)"/>
<circle cx="492.0" cy="142.9" r="3.15" fill="url(#r)"/>
<circle cx="494.6" cy="141.7" r="3.15" fill="url(#r)"/>
<circle cx="498.6" cy="142.3" r="3.15" fill="url(#r)"/>
<circle cx="504.3" cy="141.9" r="3.15" fill="url(#r)"/>
<circle cx="509.1" cy="142.7" r="3.15" fill="url(#r)"/>
<circle cx="513.1" cy="142.8" r="3.15" fill="url(#r)"/>
<circle cx="518.4" cy="142.9" r="3.15" fill="url(#r)"/>
<circle cx="521.3" cy="142.1" r="3.15" fill="url(#r)"/>
<circle cx="525.9" cy="142.0" r="3.15" fill="url(#r)"/>
<circle cx="529.7" cy="143.6" r="3.15" fill="url(#r)"/>
<circle cx="535.3" cy="143.4" r="3.15" fill="url(#r)"/>
<circle cx="539.7" cy="142.0" r="3.15" fill="url(#r)"/>
<circle cx="543.0" cy="141.3" r="3.15" fill="url(#r)"/>
<circle cx="548.9" cy="143.4" r="3.15" fill="url(#r)"/>
<circle cx="494.0" cy="145.4" r="3.15" fill="url(#r)"/>
<circle cx="498.4" cy="146.0" r="3.15" fill="url(#r)"/>
<circle cx="502.9" cy="147.1" r="3.15" fill="url(#r)"/>
<circle cx="505.2" cy="145.8" r="3.15" fill="url(#r)"/>
<circle cx="511.6" cy="145.1" r="3.15" fill="url(#r)"/>
<circle cx="514.6" cy="145.1" r="3.15" fill="url(#r)"/>
<circle cx="520.4" cy="146.2" r="3.15" fill="url(#r)"/>
<circle cx="522.9" cy="145.8" r="3.15" fill="url(#r)"/>
<circle cx="528.9" cy="146.0" r="3.15" fill="url(#r)"/>
<circle cx="533.6" cy="146.8" r="3.15" fill="url(#r)"/>
<circle cx="537.7" cy="145.8" r="3.15" fill="url(#r)"/>
<circle cx="540.9" cy="145.8" r="3.15" fill="url(#r)"/>
<circle cx="545.7" cy="144.9" r="3.15" fill="url(#r)"/>
<circle cx="550.6" cy="145.0" r="3.15" fill="url(#r)"/>
<circle cx="512.8" cy="149.9" r="3.15" fill="url(#r)"/>
<circle cx="518.2" cy="150.4" r="3.15" fill="url(#r)"/>
<circle cx="521.5" cy="148.7" r="3.15" fill="url(#r)"/>
<circle cx="526.3" cy="150.6" r="3.15" fill="url(#r)"/>
<circle cx="529.6" cy="149.2" r="3.15" fill="url(#r)"/>
<circle cx="535.8" cy="148.9" r="3.15" fill="url(#r)"/>
<circle cx="540.1" cy="150.1" r="3.15" fill="url(#r)"/>
<circle cx="544.3" cy="150.5" r="3.15" fill="url(#r)"/>
<circle cx="547.0" cy="150.4" r="3.15" fill="url(#r)"/>
<circle cx="552.8" cy="151.2" r="3.15" fill="url(#r)"/>
<circle cx="524.4" cy="152.6" r="3.15" fill="url(#r)"/>
<circle cx="527.3" cy="154.0" r="3.15" fill="url(#r)"/>
<circle cx="533.9" cy="153.9" r="3.15" fill="url(#r)"/>
<circle cx="537.2" cy="154.2" r="3.15" fill="url(#r)"/>
<circle cx="541.1" cy="153.0" r="3.15" fill="url(#r)"/>
<circle cx="545.1" cy="154.8" r="3.15" fill="url(#r)"/>
<circle cx="549.4" cy="152.7" r="3.15" fill="url(#r)"/>
<circle cx="531.6" cy="158.4" r="3.15" fill="url(#r)"/>
<circle cx="536.1" cy="156.3" r="3.15" fill="url(#r)"/>
<circle cx="540.6" cy="157.1" r="3.15" fill="url(#r)"/>
<circle cx="544.2" cy="156.4" r="3.15" fill="url(#r)"/>
<circle cx="548.1" cy="156.9" r="3.15" fill="url(#r)"/>
<circle cx="551.8" cy="158.3" r="3.15" fill="url(#r)"/>
<circle cx="540.5" cy="161.5" r="3.15" fill="url(#r)"/>
<circle cx="546.2" cy="162.1" r="3.15" fill="url(#r)"/>
<circle cx="549.3" cy="160.7" r="3.15" fill="url(#r)"/>
<circle cx="540.6" cy="164.2" r="3.15" fill="url(#r)"/>
<circle cx="544.5" cy="164.5" r="3.15" fill="url(#r)"/>
<circle cx="547.5" cy="164.4" r="3.15" fill="url(#r)"/>
<circle cx="551.9" cy="165.1" r="3.15" fill="url(#r)"/>
<circle cx="549.8" cy="168.6" r="3.15" fill="url(#r)"/>
<circle cx="613.4" cy="157.6" r="3.15" fill="url(#r)"/>
<circle cx="541.9" cy="161.8" r="3.15" fill="url(#r)"/>
<circle cx="610.5" cy="161.6" r="3.15" fill="url(#r)"/>
<circle cx="614.1" cy="160.2" r="3.15" fill="url(#r)"/>
<circle cx="545.0" cy="164.2" r="3.15" fill="url(#r)"/>
<circle cx="548.4" cy="164.3" r="3.15" fill="url(#r)"/>
<circle cx="553.9" cy="165.5" r="3.15" fill="url(#r)"/>
<circle cx="607.9" cy="163.3" r="3.15" fill="url(#r)"/>
<circle cx="613.9" cy="165.2" r="3.15" fill="url(#r)"/>
<circle cx="616.8" cy="165.3" r="3.15" fill="url(#r)"/>
<circle cx="547.6" cy="168.0" r="3.15" fill="url(#r)"/>
<circle cx="551.5" cy="168.4" r="3.15" fill="url(#r)"/>
<circle cx="555.7" cy="169.2" r="3.15" fill="url(#r)"/>
<circle cx="558.3" cy="168.8" r="3.15" fill="url(#r)"/>
<circle cx="563.2" cy="167.8" r="3.15" fill="url(#r)"/>
<circle cx="606.8" cy="167.2" r="3.15" fill="url(#r)"/>
<circle cx="610.5" cy="167.3" r="3.15" fill="url(#r)"/>
<circle cx="615.8" cy="168.7" r="3.15" fill="url(#r)"/>
<circle cx="547.9" cy="172.1" r="3.15" fill="url(#r)"/>
<circle cx="552.3" cy="171.1" r="3.15" fill="url(#r)"/>
<circle cx="557.5" cy="172.9" r="3.15" fill="url(#r)"/>
<circle cx="560.9" cy="171.9" r="3.15" fill="url(#r)"/>
<circle cx="565.3" cy="172.0" r="3.15" fill="url(#r)"/>
<circle cx="571.1" cy="172.1" r="3.15" fill="url(#r)"/>
<circle cx="574.6" cy="172.6" r="3.15" fill="url(#r)"/>
<circle cx="577.5" cy="173.0" r="3.15" fill="url(#r)"/>
<circle cx="603.8" cy="170.7" r="3.15" fill="url(#r)"/>
<circle cx="608.2" cy="171.5" r="3.15" fill="url(#r)"/>
<circle cx="612.8" cy="171.5" r="3.15" fill="url(#r)"/>
<circle cx="618.2" cy="172.5" r="3.15" fill="url(#r)"/>
<circle cx="556.0" cy="174.7" r="3.15" fill="url(#r)"/>
<circle cx="559.5" cy="174.7" r="3.15" fill="url(#r)"/>
<circle cx="563.9" cy="176.0" r="3.15" fill="url(#r)"/>
<circle cx="568.2" cy="175.3" r="3.15" fill="url(#r)"/>
<circle cx="571.1" cy="176.4" r="3.15" fill="url(#r)"/>
<circle cx="577.5" cy="174.6" r="3.15" fill="url(#r)"/>
<circle cx="580.1" cy="175.3" r="3.15" fill="url(#r)"/>
<circle cx="586.0" cy="176.4" r="3.15" fill="url(#r)"/>
<circle cx="589.2" cy="176.7" r="3.15" fill="url(#r)"/>
<circle cx="605.9" cy="174.7" r="3.15" fill="url(#r)"/>
<circle cx="611.3" cy="175.9" r="3.15" fill="url(#r)"/>
<circle cx="616.1" cy="176.2" r="3.15" fill="url(#r)"/>
<circle cx="553.8" cy="179.7" r="3.15" fill="url(#r)"/>
<circle cx="556.5" cy="179.6" r="3.15" fill="url(#r)"/>
<circle cx="560.4" cy="178.4" r="3.15" fill="url(#r)"/>
<circle cx="566.0" cy="178.3" r="3.15" fill="url(#r)"/>
<circle cx="569.5" cy="179.6" r="3.15" fill="url(#r)"/>
<circle cx="574.0" cy="180.4" r="3.15" fill="url(#r)"/>
<circle cx="578.5" cy="179.4" r="3.15" fill="url(#r)"/>
<circle cx="584.2" cy="180.0" r="3.15" fill="url(#r)"/>
<circle cx="587.8" cy="179.7" r="3.15" fill="url(#r)"/>
<circle cx="592.7" cy="180.0" r="3.15" fill="url(#r)"/>
<circle cx="596.1" cy="179.2" r="3.15" fill="url(#r)"/>
<circle cx="600.9" cy="178.7" r="3.15" fill="url(#r)"/>
<circle cx="604.5" cy="179.2" r="3.15" fill="url(#r)"/>
<circle cx="609.3" cy="180.5" r="3.15" fill="url(#r)"/>
<circle cx="613.8" cy="178.8" r="3.15" fill="url(#r)"/>
<circle cx="617.4" cy="180.4" r="3.15" fill="url(#r)"/>
<circle cx="558.6" cy="182.9" r="3.15" fill="url(#r)"/>
<circle cx="563.7" cy="183.1" r="3.15" fill="url(#r)"/>
<circle cx="567.1" cy="181.9" r="3.15" fill="url(#r)"/>
<circle cx="573.4" cy="182.5" r="3.15" fill="url(#r)"/>
<circle cx="576.1" cy="183.6" r="3.15" fill="url(#r)"/>
<circle cx="581.6" cy="181.9" r="3.15" fill="url(#r)"/>
<circle cx="584.4" cy="182.8" r="3.15" fill="url(#r)"/>
<circle cx="589.2" cy="184.2" r="3.15" fill="url(#r)"/>
<circle cx="593.9" cy="184.2" r="3.15" fill="url(#r)"/>
<circle cx="598.3" cy="183.9" r="3.15" fill="url(#r)"/>
<circle cx="601.2" cy="184.2" r="3.15" fill="url(#r)"/>
<circle cx="606.8" cy="182.0" r="3.15" fill="url(#r)"/>
<circle cx="610.6" cy="183.4" r="3.15" fill="url(#r)"/>
<circle cx="616.3" cy="182.8" r="3.15" fill="url(#r)"/>
<circle cx="562.2" cy="187.3" r="3.15" fill="url(#r)"/>
<circle cx="564.9" cy="187.7" r="3.15" fill="url(#r)"/>
<circle cx="570.9" cy="186.7" r="3.15" fill="url(#r)"/>
<circle cx="574.3" cy="186.2" r="3.15" fill="url(#r)"/>
<circle cx="578.7" cy="185.7" r="3.15" fill="url(#r)"/>
<circle cx="583.9" cy="187.0" r="3.15" fill="url(#r)"/>
<circle cx="586.5" cy="186.7" r="3.15" fill="url(#r)"/>
<circle cx="590.7" cy="186.2" r="3.15" fill="url(#r)"/>
<circle cx="596.4" cy="186.8" r="3.15" fill="url(#r)"/>
<circle cx="601.1" cy="187.9" r="3.15" fill="url(#r)"/>
<circle cx="603.4" cy="187.7" r="3.15" fill="url(#r)"/>
<circle cx="608.2" cy="185.9" r="3.15" fill="url(#r)"/>
<circle cx="613.3" cy="186.7" r="3.15" fill="url(#r)"/>
<circle cx="616.5" cy="187.3" r="3.15" fill="url(#r)"/>
<circle cx="564.6" cy="189.6" r="3.15" fill="url(#r)"/>
<circle cx="569.1" cy="191.4" r="3.15" fill="url(#r)"/>
<circle cx="571.3" cy="190.4" r="3.15" fill="url(#r)"/>
<circle cx="577.2" cy="189.8" r="3.15" fill="url(#r)"/>
<circle cx="582.0" cy="189.3" r="3.15" fill="url(#r)"/>
<circle cx="584.2" cy="191.1" r="3.15" fill="url(#r)"/>
<circle cx="590.5" cy="189.9" r="3.15" fill="url(#r)"/>
<circle cx="593.1" cy="189.4" r="3.15" fill="url(#r)"/>
<circle cx="597.0" cy="190.2" r="3.15" fill="url(#r)"/>
<circle cx="602.0" cy="191.0" r="3.15" fill="url(#r)"/>
<circle cx="606.7" cy="190.6" r="3.15" fill="url(#r)"/>
<circle cx="611.1" cy="190.4" r="3.15" fill="url(#r)"/>
<circle cx="616.0" cy="191.0" r="3.15" fill="url(#r)"/>
<circle cx="566.0" cy="193.3" r="3.15" fill="url(#r)"/>
<circle cx="569.2" cy="194.5" r="3.15" fill="url(#r)"/>
<circle cx="575.3" cy="193.1" r="3.15" fill="url(#r)"/>
<circle cx="579.8" cy="193.7" r="3.15" fill="url(#r)"/>
<circle cx="583.9" cy="193.3" r="3.15" fill="url(#r)"/>
<circle cx="588.3" cy="194.4" r="3.15" fill="url(#r)"/>
<circle cx="590.4" cy="194.5" r="3.15" fill="url(#r)"/>
<circle cx="596.6" cy="194.3" r="3.15" fill="url(#r)"/>
<circle cx="599.5" cy="194.6" r="3.15" fill="url(#r)"/>
<circle cx="603.6" cy="193.6" r="3.15" fill="url(#r)"/>
<circle cx="608.9" cy="193.9" r="3.15" fill="url(#r)"/>
<circle cx="613.3" cy="193.6" r="3.15" fill="url(#r)"/>
<circle cx="618.3" cy="193.9" r="3.15" fill="url(#r)"/>
<circle cx="589.1" cy="197.4" r="3.15" fill="url(#r)"/>
<circle cx="597.4" cy="196.9" r="3.15" fill="url(#r)"/>
<circle cx="607.1" cy="197.6" r="3.15" fill="url(#r)"/>
<circle cx="611.4" cy="197.1" r="3.15" fill="url(#r)"/>
<circle cx="615.9" cy="198.4" r="3.15" fill="url(#r)"/>
<circle cx="609.0" cy="200.6" r="3.15" fill="url(#r)"/>
<circle cx="614.1" cy="201.8" r="3.15" fill="url(#r)"/>
<circle cx="388.6" cy="14.3" r="3.15" fill="url(#r)"/>
<circle cx="388.6" cy="21.4" r="3.15" fill="url(#r)"/>
<circle cx="409.7" cy="27.4" r="3.15" fill="url(#r)"/>
<circle cx="402.8" cy="36.7" r="3.15" fill="url(#r)"/>
<circle cx="402.8" cy="47.3" r="3.15" fill="url(#r)"/>
<circle cx="386.1" cy="54.0" r="3.15" fill="url(#r)"/>
<circle cx="386.3" cy="56.0" r="3.15" fill="url(#r)"/>
<circle cx="386.2" cy="60.1" r="3.15" fill="url(#r)"/>
<circle cx="386.7" cy="64.8" r="3.15" fill="url(#r)"/>
<circle cx="386.2" cy="68.4" r="3.15" fill="url(#r)"/>
<circle cx="385.9" cy="73.5" r="3.15" fill="url(#r)"/>
<circle cx="385.5" cy="75.3" r="3.15" fill="url(#r)"/>
<circle cx="391.3" cy="71.4" r="3.15" fill="url(#r)"/>
<circle cx="398.4" cy="74.9" r="3.15" fill="url(#r)"/>
<circle cx="388.5" cy="87.7" r="3.15" fill="url(#r)"/>
<circle cx="393.9" cy="86.4" r="3.15" fill="url(#r)"/>
<circle cx="392.5" cy="95.9" r="3.15" fill="url(#r)"/>
<circle cx="398.7" cy="101.7" r="3.15" fill="url(#r)"/>
<circle cx="389.0" cy="103.5" r="3.15" fill="url(#r)"/>
<circle cx="403.2" cy="110.3" r="3.15" fill="url(#r)"/>
<circle cx="409.6" cy="116.9" r="3.15" fill="url(#r)"/>
<circle cx="416.6" cy="120.4" r="3.15" fill="url(#r)"/>
<circle cx="418.8" cy="123.9" r="3.15" fill="url(#r)"/>
<circle cx="421.5" cy="126.9" r="3.15" fill="url(#r)"/>
<circle cx="436.4" cy="137.7" r="3.15" fill="url(#r)"/>
<circle cx="450.4" cy="130.2" r="3.15" fill="url(#r)"/>
<circle cx="454.2" cy="126.8" r="3.15" fill="url(#r)"/>
<circle cx="460.2" cy="134.7" r="3.15" fill="url(#r)"/>
<circle cx="466.7" cy="136.1" r="3.15" fill="url(#r)"/>
<circle cx="472.0" cy="136.6" r="3.15" fill="url(#r)"/>
<circle cx="478.0" cy="143.2" r="3.15" fill="url(#r)"/>
<circle cx="484.5" cy="142.1" r="3.15" fill="url(#r)"/>
<circle cx="491.8" cy="144.6" r="3.15" fill="url(#r)"/>
<circle cx="496.1" cy="149.7" r="3.15" fill="url(#r)"/>
<circle cx="408.3" cy="112.9" r="3.15" fill="url(#r)"/>
<circle cx="416.2" cy="111.4" r="3.15" fill="url(#r)"/>
<circle cx="509.1" cy="156.0" r="3.15" fill="url(#r)"/>
<circle cx="461.2" cy="124.6" r="3.15" fill="url(#r)"/>
<circle cx="458.9" cy="124.7" r="3.15" fill="url(#r)"/>
<circle cx="466.0" cy="130.6" r="3.15" fill="url(#r)"/>
<circle cx="468.4" cy="136.6" r="3.15" fill="url(#r)"/>
<circle cx="390.0" cy="96.2" r="3.15" fill="url(#r)"/>
<circle cx="512.5" cy="153.3" r="3.15" fill="url(#r)"/>
<circle cx="517.3" cy="154.4" r="3.15" fill="url(#r)"/>
<circle cx="522.0" cy="155.6" r="3.15" fill="url(#r)"/>
<circle cx="529.1" cy="160.4" r="3.15" fill="url(#r)"/>
<circle cx="538.6" cy="165.1" r="3.15" fill="url(#r)"/>
<circle cx="543.4" cy="167.5" r="3.15" fill="url(#r)"/>
<circle cx="544.6" cy="174.6" r="3.15" fill="url(#r)"/>
<circle cx="614.3" cy="158.9" r="3.15" fill="url(#r)"/>
<circle cx="615.5" cy="162.5" r="3.15" fill="url(#r)"/>
<circle cx="616.7" cy="166.0" r="3.15" fill="url(#r)"/>
<circle cx="617.9" cy="169.6" r="3.15" fill="url(#r)"/>
<circle cx="613.1" cy="168.4" r="3.15" fill="url(#r)"/>
<circle cx="610.8" cy="172.0" r="3.15" fill="url(#r)"/>
<circle cx="562.1" cy="170.8" r="3.15" fill="url(#r)"/>
<circle cx="568.1" cy="170.8" r="3.15" fill="url(#r)"/>
<circle cx="583.5" cy="172.0" r="3.15" fill="url(#r)"/>
<circle cx="590.6" cy="173.1" r="3.15" fill="url(#r)"/>
<circle cx="555.0" cy="169.6" r="3.15" fill="url(#r)"/>
<circle cx="619.6" cy="194.3" r="3.15" fill="url(#r)"/>
<circle cx="409.3" cy="78.4" r="3.15" fill="url(#b)"/>
<circle cx="414.5" cy="75.9" r="3.15" fill="url(#b)"/>
<circle cx="412.2" cy="83.3" r="3.15" fill="url(#b)"/>
<circle cx="423.3" cy="82.9" r="3.15" fill="url(#b)"/>
<circle cx="430.5" cy="83.1" r="3.15" fill="url(#b)"/>
<circle cx="435.6" cy="84.0" r="3.15" fill="url(#b)"/>
<circle cx="402.2" cy="86.0" r="3.15" fill="url(#b)"/>
<circle cx="410.2" cy="86.8" r="3.15" fill="url(#b)"/>
<circle cx="414.0" cy="86.1" r="3.15" fill="url(#b)"/>
<circle cx="422.7" cy="88.7" r="3.15" fill="url(#b)"/>
<circle cx="427.7" cy="86.0" r="3.15" fill="url(#b)"/>
<circle cx="432.4" cy="85.8" r="3.15" fill="url(#b)"/>
<circle cx="444.8" cy="87.8" r="3.15" fill="url(#b)"/>
<circle cx="418.8" cy="92.8" r="3.15" fill="url(#b)"/>
<circle cx="429.2" cy="93.0" r="3.15" fill="url(#b)"/>
<circle cx="437.7" cy="93.7" r="3.15" fill="url(#b)"/>
<circle cx="443.5" cy="93.6" r="3.15" fill="url(#b)"/>
<circle cx="455.3" cy="93.6" r="3.15" fill="url(#b)"/>
<circle cx="466.5" cy="94.6" r="3.15" fill="url(#b)"/>
<circle cx="413.2" cy="97.0" r="3.15" fill="url(#b)"/>
<circle cx="420.6" cy="96.2" r="3.15" fill="url(#b)"/>
<circle cx="438.4" cy="98.4" r="3.15" fill="url(#b)"/>
<circle cx="444.9" cy="98.5" r="3.15" fill="url(#b)"/>
<circle cx="450.1" cy="99.4" r="3.15" fill="url(#b)"/>
<circle cx="461.9" cy="97.8" r="3.15" fill="url(#b)"/>
<circle cx="469.5" cy="98.7" r="3.15" fill="url(#b)"/>
<circle cx="480.9" cy="97.6" r="3.15" fill="url(#b)"/>
<circle cx="487.8" cy="97.0" r="3.15" fill="url(#b)"/>
<circle cx="504.1" cy="99.7" r="3.15" fill="url(#b)"/>
<circle cx="510.6" cy="99.0" r="3.15" fill="url(#b)"/>
<circle cx="412.9" cy="101.7" r="3.15" fill="url(#b)"/>
<circle cx="418.8" cy="102.0" r="3.15" fill="url(#b)"/>
<circle cx="431.0" cy="104.6" r="3.15" fill="url(#b)"/>
<circle cx="434.2" cy="104.4" r="3.15" fill="url(#b)"/>
<circle cx="443.2" cy="103.2" r="3.15" fill="url(#b)"/>
<circle cx="452.4" cy="103.3" r="3.15" fill="url(#b)"/>
<circle cx="459.6" cy="101.4" r="3.15" fill="url(#b)"/>
<circle cx="464.3" cy="104.4" r="3.15" fill="url(#b)"/>
<circle cx="471.8" cy="101.8" r="3.15" fill="url(#b)"/>
<circle cx="485.7" cy="103.3" r="3.15" fill="url(#b)"/>
<circle cx="488.5" cy="104.0" r="3.15" fill="url(#b)"/>
<circle cx="497.3" cy="101.7" r="3.15" fill="url(#b)"/>
<circle cx="508.4" cy="104.9" r="3.15" fill="url(#b)"/>
<circle cx="520.7" cy="103.5" r="3.15" fill="url(#b)"/>
<circle cx="525.8" cy="102.8" r="3.15" fill="url(#b)"/>
<circle cx="420.8" cy="109.1" r="3.15" fill="url(#b)"/>
<circle cx="426.3" cy="107.8" r="3.15" fill="url(#b)"/>
<circle cx="431.5" cy="108.2" r="3.15" fill="url(#b)"/>
<circle cx="439.6" cy="109.9" r="3.15" fill="url(#b)"/>
<circle cx="446.2" cy="110.2" r="3.15" fill="url(#b)"/>
<circle cx="450.2" cy="107.5" r="3.15" fill="url(#b)"/>
<circle cx="455.3" cy="107.4" r="3.15" fill="url(#b)"/>
<circle cx="464.5" cy="107.8" r="3.15" fill="url(#b)"/>
<circle cx="470.0" cy="109.8" r="3.15" fill="url(#b)"/>
<circle cx="475.1" cy="106.9" r="3.15" fill="url(#b)"/>
<circle cx="480.3" cy="108.8" r="3.15" fill="url(#b)"/>
<circle cx="493.1" cy="108.9" r="3.15" fill="url(#b)"/>
<circle cx="500.6" cy="108.0" r="3.15" fill="url(#b)"/>
<circle cx="510.0" cy="107.6" r="3.15" fill="url(#b)"/>
<circle cx="515.2" cy="107.5" r="3.15" fill="url(#b)"/>
<circle cx="524.8" cy="107.2" r="3.15" fill="url(#b)"/>
<circle cx="529.7" cy="109.1" r="3.15" fill="url(#b)"/>
<circle cx="535.9" cy="107.5" r="3.15" fill="url(#b)"/>
<circle cx="539.3" cy="109.1" r="3.15" fill="url(#b)"/>
<circle cx="422.7" cy="112.2" r="3.15" fill="url(#b)"/>
<circle cx="431.7" cy="114.2" r="3.15" fill="url(#b)"/>
<circle cx="441.3" cy="113.2" r="3.15" fill="url(#b)"/>
<circle cx="455.6" cy="113.0" r="3.15" fill="url(#b)"/>
<circle cx="458.3" cy="114.8" r="3.15" fill="url(#b)"/>
<circle cx="467.3" cy="114.7" r="3.15" fill="url(#b)"/>
<circle cx="479.5" cy="112.3" r="3.15" fill="url(#b)"/>
<circle cx="488.7" cy="112.1" r="3.15" fill="url(#b)"/>
<circle cx="495.6" cy="114.1" r="3.15" fill="url(#b)"/>
<circle cx="509.3" cy="112.2" r="3.15" fill="url(#b)"/>
<circle cx="521.0" cy="112.7" r="3.15" fill="url(#b)"/>
<circle cx="526.1" cy="112.2" r="3.15" fill="url(#b)"/>
<circle cx="533.1" cy="112.8" r="3.15" fill="url(#b)"/>
<circle cx="543.0" cy="113.2" r="3.15" fill="url(#b)"/>
<circle cx="443.4" cy="118.3" r="3.15" fill="url(#b)"/>
<circle cx="456.0" cy="119.6" r="3.15" fill="url(#b)"/>
<circle cx="464.3" cy="120.4" r="3.15" fill="url(#b)"/>
<circle cx="467.6" cy="120.4" r="3.15" fill="url(#b)"/>
<circle cx="474.1" cy="117.6" r="3.15" fill="url(#b)"/>
<circle cx="480.0" cy="117.3" r="3.15" fill="url(#b)"/>
<circle cx="488.5" cy="118.6" r="3.15" fill="url(#b)"/>
<circle cx="491.5" cy="118.6" r="3.15" fill="url(#b)"/>
<circle cx="497.9" cy="119.4" r="3.15" fill="url(#b)"/>
<circle cx="503.6" cy="120.5" r="3.15" fill="url(#b)"/>
<circle cx="509.8" cy="117.0" r="3.15" fill="url(#b)"/>
<circle cx="517.1" cy="117.1" r="3.15" fill="url(#b)"/>
<circle cx="523.9" cy="118.9" r="3.15" fill="url(#b)"/>
<circle cx="529.0" cy="119.1" r="3.15" fill="url(#b)"/>
<circle cx="533.7" cy="119.9" r="3.15" fill="url(#b)"/>
<circle cx="541.9" cy="120.1" r="3.15" fill="url(#b)"/>
<circle cx="548.4" cy="117.6" r="3.15" fill="url(#b)"/>
<circle cx="430.6" cy="122.2" r="3.15" fill="url(#b)"/>
<circle cx="435.0" cy="123.9" r="3.15" fill="url(#b)"/>
<circle cx="443.6" cy="123.9" r="3.15" fill="url(#b)"/>
<circle cx="448.4" cy="122.9" r="3.15" fill="url(#b)"/>
<circle cx="452.9" cy="125.8" r="3.15" fill="url(#b)"/>
<circle cx="459.0" cy="125.6" r="3.15" fill="url(#b)"/>
<circle cx="465.7" cy="123.4" r="3.15" fill="url(#b)"/>
<circle cx="479.2" cy="122.2" r="3.15" fill="url(#b)"/>
<circle cx="483.1" cy="123.8" r="3.15" fill="url(#b)"/>
<circle cx="490.8" cy="122.7" r="3.15" fill="url(#b)"/>
<circle cx="500.7" cy="124.0" r="3.15" fill="url(#b)"/>
<circle cx="509.4" cy="122.4" r="3.15" fill="url(#b)"/>
<circle cx="512.8" cy="124.3" r="3.15" fill="url(#b)"/>
<circle cx="519.7" cy="125.4" r="3.15" fill="url(#b)"/>
<circle cx="527.3" cy="125.6" r="3.15" fill="url(#b)"/>
<circle cx="543.2" cy="123.2" r="3.15" fill="url(#b)"/>
<circle cx="551.3" cy="123.7" r="3.15" fill="url(#b)"/>
<circle cx="467.5" cy="130.0" r="3.15" fill="url(#b)"/>
<circle cx="474.9" cy="129.8" r="3.15" fill="url(#b)"/>
<circle cx="479.2" cy="129.1" r="3.15" fill="url(#b)"/>
<circle cx="494.7" cy="130.2" r="3.15" fill="url(#b)"/>
<circle cx="498.8" cy="130.8" r="3.15" fill="url(#b)"/>
<circle cx="504.7" cy="130.8" r="3.15" fill="url(#b)"/>
<circle cx="510.0" cy="130.0" r="3.15" fill="url(#b)"/>
<circle cx="522.0" cy="128.1" r="3.15" fill="url(#b)"/>
<circle cx="527.3" cy="127.8" r="3.15" fill="url(#b)"/>
<circle cx="534.7" cy="127.6" r="3.15" fill="url(#b)"/>
<circle cx="542.6" cy="129.4" r="3.15" fill="url(#b)"/>
<circle cx="482.2" cy="133.4" r="3.15" fill="url(#b)"/>
<circle cx="494.6" cy="135.9" r="3.15" fill="url(#b)"/>
<circle cx="500.7" cy="133.8" r="3.15" fill="url(#b)"/>
<circle cx="507.4" cy="134.1" r="3.15" fill="url(#b)"/>
<circle cx="518.8" cy="132.9" r="3.15" fill="url(#b)"/>
<circle cx="526.7" cy="133.5" r="3.15" fill="url(#b)"/>
<circle cx="532.8" cy="133.8" r="3.15" fill="url(#b)"/>
<circle cx="536.9" cy="135.9" r="3.15" fill="url(#b)"/>
<circle cx="542.4" cy="133.1" r="3.15" fill="url(#b)"/>
<circle cx="549.6" cy="135.1" r="3.15" fill="url(#b)"/>
<circle cx="491.9" cy="138.9" r="3.15" fill="url(#b)"/>
<circle cx="498.1" cy="138.3" r="3.15" fill="url(#b)"/>
<circle cx="506.0" cy="140.7" r="3.15" fill="url(#b)"/>
<circle cx="512.7" cy="140.6" r="3.15" fill="url(#b)"/>
<circle cx="529.0" cy="138.3" r="3.15" fill="url(#b)"/>
<circle cx="539.6" cy="139.6" r="3.15" fill="url(#b)"/>
<circle cx="546.5" cy="140.3" r="3.15" fill="url(#b)"/>
<circle cx="512.5" cy="143.5" r="3.15" fill="url(#b)"/>
<circle cx="527.0" cy="144.5" r="3.15" fill="url(#b)"/>
<circle cx="530.6" cy="143.8" r="3.15" fill="url(#b)"/>
<circle cx="536.6" cy="143.9" r="3.15" fill="url(#b)"/>
<circle cx="545.4" cy="146.2" r="3.15" fill="url(#b)"/>
<circle cx="551.6" cy="145.1" r="3.15" fill="url(#b)"/>
<circle cx="530.4" cy="150.9" r="3.15" fill="url(#b)"/>
<circle cx="536.5" cy="151.0" r="3.15" fill="url(#b)"/>
<circle cx="541.8" cy="150.9" r="3.15" fill="url(#b)"/>
<circle cx="546.1" cy="150.5" r="3.15" fill="url(#b)"/>
<circle cx="387.4" cy="41.2" r="3.15" fill="url(#b)"/>
<circle cx="399.2" cy="44.0" r="3.15" fill="url(#b)"/>
<circle cx="395.7" cy="63.7" r="3.15" fill="url(#b)"/>
<circle cx="395.5" cy="74.8" r="3.15" fill="url(#b)"/>
<circle cx="401.8" cy="81.6" r="3.15" fill="url(#b)"/>
<circle cx="405.1" cy="72.6" r="3.15" fill="url(#b)"/>
<circle cx="413.7" cy="75.7" r="3.15" fill="url(#b)"/>
<circle cx="426.0" cy="75.9" r="3.15" fill="url(#b)"/>
<circle cx="431.6" cy="75.8" r="3.15" fill="url(#b)"/>
<circle cx="398.8" cy="74.8" r="3.15" fill="url(#b)"/>
<circle cx="398.9" cy="91.7" r="3.15" fill="url(#b)"/>
<circle cx="403.5" cy="93.4" r="3.15" fill="url(#b)"/>
<circle cx="409.2" cy="94.0" r="3.15" fill="url(#b)"/>
<circle cx="421.6" cy="100.5" r="3.15" fill="url(#b)"/>
<circle cx="432.8" cy="94.6" r="3.15" fill="url(#b)"/>
<circle cx="467.3" cy="87.3" r="3.15" fill="url(#b)"/>
<circle cx="457.2" cy="89.9" r="3.15" fill="url(#b)"/>
<circle cx="495.7" cy="88.2" r="3.15" fill="url(#b)"/>
<circle cx="501.3" cy="89.3" r="3.15" fill="url(#b)"/>
<circle cx="495.7" cy="94.3" r="3.15" fill="url(#b)"/>
<circle cx="500.6" cy="74.9" r="3.15" fill="url(#b)"/>
<circle cx="452.2" cy="102.5" r="3.15" fill="url(#b)"/>
<circle cx="426.7" cy="124.7" r="3.15" fill="url(#b)"/>
<circle cx="436.1" cy="112.9" r="3.15" fill="url(#b)"/>
<circle cx="440.7" cy="127.4" r="3.15" fill="url(#b)"/>
<circle cx="455.3" cy="124.7" r="3.15" fill="url(#b)"/>
<circle cx="460.2" cy="123.8" r="3.15" fill="url(#b)"/>
<circle cx="470.4" cy="112.8" r="3.15" fill="url(#b)"/>
<circle cx="475.8" cy="140.4" r="3.15" fill="url(#b)"/>
<circle cx="489.8" cy="144.6" r="3.15" fill="url(#b)"/>
<circle cx="498.7" cy="143.6" r="3.15" fill="url(#b)"/>
<circle cx="505.4" cy="124.2" r="3.15" fill="url(#b)"/>
<circle cx="507.6" cy="134.7" r="3.15" fill="url(#b)"/>
<circle cx="553.0" cy="124.6" r="3.15" fill="url(#b)"/>
<circle cx="550.5" cy="125.5" r="3.15" fill="url(#b)"/>
<circle cx="577.4" cy="128.0" r="3.15" fill="url(#b)"/>
<circle cx="582.8" cy="128.2" r="3.15" fill="url(#b)"/>
<circle cx="595.8" cy="124.5" r="3.15" fill="url(#b)"/>
<circle cx="603.7" cy="121.1" r="3.15" fill="url(#b)"/>
<circle cx="602.0" cy="127.4" r="3.15" fill="url(#b)"/>
<circle cx="564.3" cy="129.4" r="3.15" fill="url(#b)"/>
<circle cx="422.5" cy="113.7" r="3.15" fill="url(#b)"/>
<circle cx="399.3" cy="46.2" r="3.15" fill="url(#b)"/>
<circle cx="524.1" cy="127.0" r="3.15" fill="url(#b)"/>
<circle cx="492.1" cy="100.9" r="3.15" fill="url(#b)"/>
<circle cx="562.1" cy="133.0" r="3.15" fill="url(#b)"/>
<circle cx="559.1" cy="138.8" r="3.15" fill="url(#b)"/>
<circle cx="604.2" cy="143.0" r="3.15" fill="url(#b)"/>
<circle cx="582.3" cy="146.1" r="3.15" fill="url(#b)"/>
<circle cx="596.5" cy="142.4" r="3.15" fill="url(#b)"/>
<circle cx="579.9" cy="152.0" r="3.15" fill="url(#b)"/>
<circle cx="589.4" cy="152.0" r="3.15" fill="url(#b)"/>
<circle cx="601.3" cy="150.8" r="3.15" fill="url(#b)"/>
<circle cx="466.0" cy="123.5" r="3.15" fill="url(#b)"/>
<circle cx="430.4" cy="136.6" r="3.15" fill="url(#b)"/>
<circle cx="482.8" cy="141.4" r="3.15" fill="url(#b)"/>
<circle cx="491.1" cy="142.6" r="3.15" fill="url(#b)"/>
<circle cx="504.2" cy="125.9" r="3.15" fill="url(#b)"/>
<circle cx="519.6" cy="131.9" r="3.15" fill="url(#b)"/>
<circle cx="524.4" cy="124.8" r="3.15" fill="url(#b)"/>
<circle cx="533.9" cy="134.3" r="3.15" fill="url(#b)"/>
<circle cx="524.4" cy="148.5" r="3.15" fill="url(#b)"/>
<circle cx="541.0" cy="154.4" r="3.15" fill="url(#b)"/>
<circle cx="538.6" cy="139.0" r="3.15" fill="url(#b)"/>
<circle cx="543.4" cy="131.9" r="3.15" fill="url(#b)"/>
<circle cx="569.0" cy="149.2" r="3.15" fill="url(#b)"/>
<circle cx="578.9" cy="146.7" r="3.15" fill="url(#b)"/>
<circle cx="586.4" cy="152.3" r="3.15" fill="url(#b)"/>
<circle cx="592.2" cy="146.3" r="3.15" fill="url(#b)"/>
<circle cx="605.2" cy="148.9" r="3.15" fill="url(#b)"/>
<circle cx="607.8" cy="154.1" r="3.15" fill="url(#b)"/>
<circle cx="556.2" cy="124.5" r="3.15" fill="url(#b)"/>
<circle cx="608.4" cy="130.4" r="3.15" fill="url(#b)"/>
<circle cx="595.3" cy="137.5" r="3.15" fill="url(#b)"/>
<circle cx="601.3" cy="138.7" r="3.15" fill="url(#b)"/>
<circle cx="582.3" cy="148.2" r="3.15" fill="url(#b)"/>
<circle cx="582.3" cy="154.2" r="3.15" fill="url(#b)"/>
<circle cx="576.4" cy="150.6" r="3.15" fill="url(#b)"/>
<circle cx="608.4" cy="151.8" r="3.15" fill="url(#b)"/>
<circle cx="603.6" cy="157.7" r="3.15" fill="url(#b)"/>
<circle cx="593.0" cy="153.0" r="3.15" fill="url(#b)"/>
<circle cx="571.6" cy="154.2" r="3.15" fill="url(#b)"/>
<circle cx="565.7" cy="135.2" r="3.15" fill="url(#b)"/>
<circle cx="571.6" cy="135.2" r="3.15" fill="url(#b)"/>
<circle cx="589.4" cy="161.3" r="3.15" fill="url(#b)"/>
<circle cx="607.2" cy="158.9" r="3.15" fill="url(#b)"/>
<circle cx="590.4" cy="163.0" r="3.15" fill="url(#b)"/>
<circle cx="595.4" cy="171.1" r="3.15" fill="url(#b)"/>
<circle cx="593.4" cy="167.1" r="3.15" fill="url(#b)"/>
<circle cx="424.5" cy="87.6" r="3.15" fill="url(#b)"/>
<circle cx="427.2" cy="120.8" r="3.15" fill="url(#b)"/>
<circle cx="424.5" cy="82.1" r="3.15" fill="url(#b)"/>
<circle cx="436.9" cy="118.1" r="3.15" fill="url(#b)"/>
<circle cx="430.1" cy="65.2" r="3.15" fill="url(#o)"/>
<circle cx="400.6" cy="66.9" r="3.15" fill="url(#o)"/>
<circle cx="428.1" cy="67.4" r="3.15" fill="url(#o)"/>
<circle cx="400.6" cy="70.8" r="3.15" fill="url(#o)"/>
<circle cx="406.4" cy="70.4" r="3.15" fill="url(#o)"/>
<circle cx="409.4" cy="70.7" r="3.15" fill="url(#o)"/>
<circle cx="404.5" cy="76.2" r="3.15" fill="url(#o)"/>
<circle cx="406.5" cy="73.9" r="3.15" fill="url(#o)"/>
<circle cx="412.5" cy="73.3" r="3.15" fill="url(#o)"/>
<circle cx="429.3" cy="75.6" r="3.15" fill="url(#o)"/>
<circle cx="402.3" cy="78.3" r="3.15" fill="url(#o)"/>
<circle cx="405.4" cy="77.4" r="3.15" fill="url(#o)"/>
<circle cx="415.6" cy="78.8" r="3.15" fill="url(#o)"/>
<circle cx="428.0" cy="77.1" r="3.15" fill="url(#o)"/>
<circle cx="429.9" cy="79.7" r="3.15" fill="url(#o)"/>
<circle cx="402.9" cy="82.5" r="3.15" fill="url(#o)"/>
<circle cx="411.2" cy="82.8" r="3.15" fill="url(#o)"/>
<circle cx="417.6" cy="82.9" r="3.15" fill="url(#o)"/>
<circle cx="421.9" cy="82.8" r="3.15" fill="url(#o)"/>
<circle cx="426.0" cy="82.9" r="3.15" fill="url(#o)"/>
<circle cx="429.4" cy="81.7" r="3.15" fill="url(#o)"/>
<circle cx="436.1" cy="82.5" r="3.15" fill="url(#o)"/>
<circle cx="406.4" cy="85.0" r="3.15" fill="url(#o)"/>
<circle cx="410.0" cy="86.3" r="3.15" fill="url(#o)"/>
<circle cx="418.1" cy="85.2" r="3.15" fill="url(#o)"/>
<circle cx="421.8" cy="87.1" r="3.15" fill="url(#o)"/>
<circle cx="425.6" cy="86.0" r="3.15" fill="url(#o)"/>
<circle cx="430.7" cy="86.9" r="3.15" fill="url(#o)"/>
<circle cx="436.1" cy="87.1" r="3.15" fill="url(#o)"/>
<circle cx="439.9" cy="87.4" r="3.15" fill="url(#o)"/>
<circle cx="456.8" cy="85.5" r="3.15" fill="url(#o)"/>
<circle cx="462.7" cy="85.2" r="3.15" fill="url(#o)"/>
<circle cx="403.3" cy="88.8" r="3.15" fill="url(#o)"/>
<circle cx="407.6" cy="90.8" r="3.15" fill="url(#o)"/>
<circle cx="413.3" cy="90.8" r="3.15" fill="url(#o)"/>
<circle cx="421.1" cy="90.4" r="3.15" fill="url(#o)"/>
<circle cx="426.3" cy="88.3" r="3.15" fill="url(#o)"/>
<circle cx="430.1" cy="88.6" r="3.15" fill="url(#o)"/>
<circle cx="432.0" cy="90.1" r="3.15" fill="url(#o)"/>
<circle cx="437.2" cy="90.4" r="3.15" fill="url(#o)"/>
<circle cx="442.7" cy="89.1" r="3.15" fill="url(#o)"/>
<circle cx="451.3" cy="91.0" r="3.15" fill="url(#o)"/>
<circle cx="453.8" cy="91.0" r="3.15" fill="url(#o)"/>
<circle cx="458.0" cy="89.4" r="3.15" fill="url(#o)"/>
<circle cx="461.9" cy="88.3" r="3.15" fill="url(#o)"/>
<circle cx="404.8" cy="93.1" r="3.15" fill="url(#o)"/>
<circle cx="410.5" cy="92.6" r="3.15" fill="url(#o)"/>
<circle cx="415.0" cy="94.0" r="3.15" fill="url(#o)"/>
<circle cx="418.8" cy="94.1" r="3.15" fill="url(#o)"/>
<circle cx="428.4" cy="93.6" r="3.15" fill="url(#o)"/>
<circle cx="432.7" cy="94.5" r="3.15" fill="url(#o)"/>
<circle cx="435.0" cy="92.3" r="3.15" fill="url(#o)"/>
<circle cx="440.6" cy="93.5" r="3.15" fill="url(#o)"/>
<circle cx="443.4" cy="93.5" r="3.15" fill="url(#o)"/>
<circle cx="449.7" cy="94.6" r="3.15" fill="url(#o)"/>
<circle cx="452.6" cy="93.3" r="3.15" fill="url(#o)"/>
<circle cx="458.6" cy="92.5" r="3.15" fill="url(#o)"/>
<circle cx="460.6" cy="94.9" r="3.15" fill="url(#o)"/>
<circle cx="465.1" cy="94.6" r="3.15" fill="url(#o)"/>
<circle cx="406.8" cy="97.5" r="3.15" fill="url(#o)"/>
<circle cx="410.4" cy="98.2" r="3.15" fill="url(#o)"/>
<circle cx="415.5" cy="98.1" r="3.15" fill="url(#o)"/>
<circle cx="422.1" cy="95.8" r="3.15" fill="url(#o)"/>
<circle cx="423.9" cy="97.6" r="3.15" fill="url(#o)"/>
<circle cx="430.2" cy="97.4" r="3.15" fill="url(#o)"/>
<circle cx="434.4" cy="96.0" r="3.15" fill="url(#o)"/>
<circle cx="438.5" cy="97.0" r="3.15" fill="url(#o)"/>
<circle cx="440.7" cy="97.1" r="3.15" fill="url(#o)"/>
<circle cx="450.2" cy="97.0" r="3.15" fill="url(#o)"/>
<circle cx="454.2" cy="97.9" r="3.15" fill="url(#o)"/>
<circle cx="460.7" cy="96.2" r="3.15" fill="url(#o)"/>
<circle cx="463.5" cy="96.8" r="3.15" fill="url(#o)"/>
<circle cx="466.9" cy="98.4" r="3.15" fill="url(#o)"/>
<circle cx="471.6" cy="97.6" r="3.15" fill="url(#o)"/>
<circle cx="483.8" cy="97.7" r="3.15" fill="url(#o)"/>
<circle cx="412.9" cy="100.9" r="3.15" fill="url(#o)"/>
<circle cx="417.2" cy="100.3" r="3.15" fill="url(#o)"/>
<circle cx="422.8" cy="101.3" r="3.15" fill="url(#o)"/>
<circle cx="427.2" cy="100.1" r="3.15" fill="url(#o)"/>
<circle cx="432.3" cy="101.2" r="3.15" fill="url(#o)"/>
<circle cx="435.1" cy="100.8" r="3.15" fill="url(#o)"/>
<circle cx="444.5" cy="99.5" r="3.15" fill="url(#o)"/>
<circle cx="450.0" cy="101.7" r="3.15" fill="url(#o)"/>
<circle cx="453.9" cy="99.9" r="3.15" fill="url(#o)"/>
<circle cx="457.1" cy="99.4" r="3.15" fill="url(#o)"/>
<circle cx="461.2" cy="102.0" r="3.15" fill="url(#o)"/>
<circle cx="465.8" cy="102.1" r="3.15" fill="url(#o)"/>
<circle cx="478.9" cy="99.7" r="3.15" fill="url(#o)"/>
<circle cx="482.2" cy="100.3" r="3.15" fill="url(#o)"/>
<circle cx="488.4" cy="102.1" r="3.15" fill="url(#o)"/>
<circle cx="495.0" cy="102.3" r="3.15" fill="url(#o)"/>
<circle cx="505.7" cy="101.1" r="3.15" fill="url(#o)"/>
<circle cx="520.6" cy="102.4" r="3.15" fill="url(#o)"/>
<circle cx="526.6" cy="102.0" r="3.15" fill="url(#o)"/>
<circle cx="419.5" cy="105.4" r="3.15" fill="url(#o)"/>
<circle cx="425.8" cy="103.4" r="3.15" fill="url(#o)"/>
<circle cx="429.5" cy="104.6" r="3.15" fill="url(#o)"/>
<circle cx="433.7" cy="103.8" r="3.15" fill="url(#o)"/>
<circle cx="436.1" cy="105.6" r="3.15" fill="url(#o)"/>
<circle cx="443.1" cy="104.9" r="3.15" fill="url(#o)"/>
<circle cx="446.7" cy="103.5" r="3.15" fill="url(#o)"/>
<circle cx="449.9" cy="105.8" r="3.15" fill="url(#o)"/>
<circle cx="455.5" cy="105.7" r="3.15" fill="url(#o)"/>
<circle cx="459.8" cy="106.1" r="3.15" fill="url(#o)"/>
<circle cx="462.2" cy="104.4" r="3.15" fill="url(#o)"/>
<circle cx="466.7" cy="103.8" r="3.15" fill="url(#o)"/>
<circle cx="471.7" cy="103.6" r="3.15" fill="url(#o)"/>
<circle cx="476.6" cy="103.7" r="3.15" fill="url(#o)"/>
<circle cx="480.8" cy="104.5" r="3.15" fill="url(#o)"/>
<circle cx="486.1" cy="103.1" r="3.15" fill="url(#o)"/>
<circle cx="488.3" cy="103.2" r="3.15" fill="url(#o)"/>
<circle cx="493.8" cy="104.8" r="3.15" fill="url(#o)"/>
<circle cx="498.8" cy="104.1" r="3.15" fill="url(#o)"/>
<circle cx="501.3" cy="104.9" r="3.15" fill="url(#o)"/>
<circle cx="511.3" cy="105.3" r="3.15" fill="url(#o)"/>
<circle cx="522.9" cy="103.4" r="3.15" fill="url(#o)"/>
<circle cx="526.7" cy="104.7" r="3.15" fill="url(#o)"/>
<circle cx="422.7" cy="108.2" r="3.15" fill="url(#o)"/>
<circle cx="427.8" cy="109.5" r="3.15" fill="url(#o)"/>
<circle cx="430.2" cy="108.1" r="3.15" fill="url(#o)"/>
<circle cx="435.3" cy="108.9" r="3.15" fill="url(#o)"/>
<circle cx="439.7" cy="108.6" r="3.15" fill="url(#o)"/>
<circle cx="448.0" cy="109.6" r="3.15" fill="url(#o)"/>
<circle cx="451.2" cy="108.8" r="3.15" fill="url(#o)"/>
<circle cx="460.7" cy="109.1" r="3.15" fill="url(#o)"/>
<circle cx="464.7" cy="108.9" r="3.15" fill="url(#o)"/>
<circle cx="470.5" cy="106.9" r="3.15" fill="url(#o)"/>
<circle cx="473.7" cy="108.7" r="3.15" fill="url(#o)"/>
<circle cx="477.4" cy="109.0" r="3.15" fill="url(#o)"/>
<circle cx="483.8" cy="107.8" r="3.15" fill="url(#o)"/>
<circle cx="488.1" cy="107.2" r="3.15" fill="url(#o)"/>
<circle cx="496.5" cy="108.0" r="3.15" fill="url(#o)"/>
<circle cx="499.7" cy="108.4" r="3.15" fill="url(#o)"/>
<circle cx="503.1" cy="108.5" r="3.15" fill="url(#o)"/>
<circle cx="510.1" cy="108.0" r="3.15" fill="url(#o)"/>
<circle cx="512.1" cy="109.9" r="3.15" fill="url(#o)"/>
<circle cx="517.7" cy="109.5" r="3.15" fill="url(#o)"/>
<circle cx="524.4" cy="108.2" r="3.15" fill="url(#o)"/>
<circle cx="529.2" cy="108.2" r="3.15" fill="url(#o)"/>
<circle cx="423.3" cy="111.0" r="3.15" fill="url(#o)"/>
<circle cx="427.8" cy="110.8" r="3.15" fill="url(#o)"/>
<circle cx="433.5" cy="111.0" r="3.15" fill="url(#o)"/>
<circle cx="437.4" cy="111.3" r="3.15" fill="url(#o)"/>
<circle cx="443.1" cy="110.7" r="3.15" fill="url(#o)"/>
<circle cx="445.0" cy="113.6" r="3.15" fill="url(#o)"/>
<circle cx="453.5" cy="112.8" r="3.15" fill="url(#o)"/>
<circle cx="459.9" cy="111.4" r="3.15" fill="url(#o)"/>
<circle cx="462.5" cy="111.9" r="3.15" fill="url(#o)"/>
<circle cx="468.1" cy="111.5" r="3.15" fill="url(#o)"/>
<circle cx="472.6" cy="110.8" r="3.15" fill="url(#o)"/>
<circle cx="480.7" cy="112.1" r="3.15" fill="url(#o)"/>
<circle cx="484.6" cy="111.9" r="3.15" fill="url(#o)"/>
<circle cx="488.6" cy="113.7" r="3.15" fill="url(#o)"/>
<circle cx="495.2" cy="113.6" r="3.15" fill="url(#o)"/>
<circle cx="498.9" cy="112.5" r="3.15" fill="url(#o)"/>
<circle cx="503.8" cy="112.6" r="3.15" fill="url(#o)"/>
<circle cx="506.7" cy="110.8" r="3.15" fill="url(#o)"/>
<circle cx="509.8" cy="111.4" r="3.15" fill="url(#o)"/>
<circle cx="514.1" cy="112.0" r="3.15" fill="url(#o)"/>
<circle cx="523.6" cy="112.6" r="3.15" fill="url(#o)"/>
<circle cx="526.5" cy="111.1" r="3.15" fill="url(#o)"/>
<circle cx="532.0" cy="111.9" r="3.15" fill="url(#o)"/>
<circle cx="537.2" cy="112.9" r="3.15" fill="url(#o)"/>
<circle cx="426.5" cy="116.8" r="3.15" fill="url(#o)"/>
<circle cx="432.4" cy="116.4" r="3.15" fill="url(#o)"/>
<circle cx="434.4" cy="116.1" r="3.15" fill="url(#o)"/>
<circle cx="439.3" cy="114.6" r="3.15" fill="url(#o)"/>
<circle cx="444.8" cy="115.0" r="3.15" fill="url(#o)"/>
<circle cx="447.9" cy="117.0" r="3.15" fill="url(#o)"/>
<circle cx="467.1" cy="115.0" r="3.15" fill="url(#o)"/>
<circle cx="468.4" cy="114.6" r="3.15" fill="url(#o)"/>
<circle cx="474.5" cy="115.9" r="3.15" fill="url(#o)"/>
<circle cx="477.9" cy="117.4" r="3.15" fill="url(#o)"/>
<circle cx="488.3" cy="114.3" r="3.15" fill="url(#o)"/>
<circle cx="492.4" cy="116.5" r="3.15" fill="url(#o)"/>
<circle cx="496.8" cy="114.8" r="3.15" fill="url(#o)"/>
<circle cx="499.3" cy="115.5" r="3.15" fill="url(#o)"/>
<circle cx="505.0" cy="116.1" r="3.15" fill="url(#o)"/>
<circle cx="509.1" cy="116.2" r="3.15" fill="url(#o)"/>
<circle cx="513.9" cy="116.1" r="3.15" fill="url(#o)"/>
<circle cx="521.0" cy="116.5" r="3.15" fill="url(#o)"/>
<circle cx="526.3" cy="116.4" r="3.15" fill="url(#o)"/>
<circle cx="531.0" cy="115.7" r="3.15" fill="url(#o)"/>
<circle cx="539.1" cy="116.8" r="3.15" fill="url(#o)"/>
<circle cx="546.2" cy="115.8" r="3.15" fill="url(#o)"/>
<circle cx="428.3" cy="119.0" r="3.15" fill="url(#o)"/>
<circle cx="433.1" cy="120.0" r="3.15" fill="url(#o)"/>
<circle cx="437.1" cy="119.9" r="3.15" fill="url(#o)"/>
<circle cx="445.0" cy="118.2" r="3.15" fill="url(#o)"/>
<circle cx="451.7" cy="120.2" r="3.15" fill="url(#o)"/>
<circle cx="456.0" cy="119.9" r="3.15" fill="url(#o)"/>
<circle cx="457.6" cy="119.2" r="3.15" fill="url(#o)"/>
<circle cx="463.9" cy="118.2" r="3.15" fill="url(#o)"/>
<circle cx="467.4" cy="119.6" r="3.15" fill="url(#o)"/>
<circle cx="470.8" cy="120.3" r="3.15" fill="url(#o)"/>
<circle cx="476.7" cy="118.4" r="3.15" fill="url(#o)"/>
<circle cx="481.9" cy="121.1" r="3.15" fill="url(#o)"/>
<circle cx="483.5" cy="120.8" r="3.15" fill="url(#o)"/>
<circle cx="488.6" cy="120.9" r="3.15" fill="url(#o)"/>
<circle cx="494.9" cy="118.8" r="3.15" fill="url(#o)"/>
<circle cx="497.5" cy="118.9" r="3.15" fill="url(#o)"/>
<circle cx="502.6" cy="119.0" r="3.15" fill="url(#o)"/>
<circle cx="507.9" cy="119.8" r="3.15" fill="url(#o)"/>
<circle cx="515.0" cy="119.7" r="3.15" fill="url(#o)"/>
<circle cx="520.9" cy="120.0" r="3.15" fill="url(#o)"/>
<circle cx="524.1" cy="119.7" r="3.15" fill="url(#o)"/>
<circle cx="529.4" cy="118.0" r="3.15" fill="url(#o)"/>
<circle cx="533.5" cy="118.2" r="3.15" fill="url(#o)"/>
<circle cx="535.1" cy="120.1" r="3.15" fill="url(#o)"/>
<circle cx="540.1" cy="119.2" r="3.15" fill="url(#o)"/>
<circle cx="545.9" cy="119.7" r="3.15" fill="url(#o)"/>
<circle cx="548.9" cy="119.9" r="3.15" fill="url(#o)"/>
<circle cx="432.3" cy="123.0" r="3.15" fill="url(#o)"/>
<circle cx="436.9" cy="121.9" r="3.15" fill="url(#o)"/>
<circle cx="438.7" cy="122.1" r="3.15" fill="url(#o)"/>
<circle cx="453.8" cy="124.3" r="3.15" fill="url(#o)"/>
<circle cx="458.5" cy="124.3" r="3.15" fill="url(#o)"/>
<circle cx="459.8" cy="124.5" r="3.15" fill="url(#o)"/>
<circle cx="464.4" cy="124.2" r="3.15" fill="url(#o)"/>
<circle cx="470.4" cy="124.4" r="3.15" fill="url(#o)"/>
<circle cx="473.7" cy="124.4" r="3.15" fill="url(#o)"/>
<circle cx="478.0" cy="123.9" r="3.15" fill="url(#o)"/>
<circle cx="484.0" cy="123.5" r="3.15" fill="url(#o)"/>
<circle cx="492.6" cy="124.6" r="3.15" fill="url(#o)"/>
<circle cx="500.9" cy="124.2" r="3.15" fill="url(#o)"/>
<circle cx="503.1" cy="122.6" r="3.15" fill="url(#o)"/>
<circle cx="508.5" cy="124.3" r="3.15" fill="url(#o)"/>
<circle cx="511.7" cy="122.8" r="3.15" fill="url(#o)"/>
<circle cx="516.2" cy="121.9" r="3.15" fill="url(#o)"/>
<circle cx="525.0" cy="123.8" r="3.15" fill="url(#o)"/>
<circle cx="533.9" cy="122.5" r="3.15" fill="url(#o)"/>
<circle cx="539.4" cy="124.2" r="3.15" fill="url(#o)"/>
<circle cx="543.7" cy="122.1" r="3.15" fill="url(#o)"/>
<circle cx="546.7" cy="122.6" r="3.15" fill="url(#o)"/>
<circle cx="550.7" cy="122.7" r="3.15" fill="url(#o)"/>
<circle cx="433.0" cy="128.1" r="3.15" fill="url(#o)"/>
<circle cx="437.3" cy="125.8" r="3.15" fill="url(#o)"/>
<circle cx="442.8" cy="128.4" r="3.15" fill="url(#o)"/>
<circle cx="445.7" cy="127.1" r="3.15" fill="url(#o)"/>
<circle cx="450.4" cy="126.9" r="3.15" fill="url(#o)"/>
<circle cx="456.2" cy="128.4" r="3.15" fill="url(#o)"/>
<circle cx="460.7" cy="125.9" r="3.15" fill="url(#o)"/>
<circle cx="463.9" cy="128.2" r="3.15" fill="url(#o)"/>
<circle cx="469.4" cy="125.5" r="3.15" fill="url(#o)"/>
<circle cx="473.1" cy="126.6" r="3.15" fill="url(#o)"/>
<circle cx="475.5" cy="127.8" r="3.15" fill="url(#o)"/>
<circle cx="480.4" cy="126.1" r="3.15" fill="url(#o)"/>
<circle cx="485.7" cy="125.7" r="3.15" fill="url(#o)"/>
<circle cx="488.4" cy="126.6" r="3.15" fill="url(#o)"/>
<circle cx="493.8" cy="128.3" r="3.15" fill="url(#o)"/>
<circle cx="500.8" cy="127.1" r="3.15" fill="url(#o)"/>
<circle cx="506.3" cy="128.6" r="3.15" fill="url(#o)"/>
<circle cx="510.3" cy="126.8" r="3.15" fill="url(#o)"/>
<circle cx="516.5" cy="127.3" r="3.15" fill="url(#o)"/>
<circle cx="519.2" cy="126.2" r="3.15" fill="url(#o)"/>
<circle cx="523.7" cy="126.9" r="3.15" fill="url(#o)"/>
<circle cx="531.2" cy="126.5" r="3.15" fill="url(#o)"/>
<circle cx="537.8" cy="126.2" r="3.15" fill="url(#o)"/>
<circle cx="540.7" cy="127.1" r="3.15" fill="url(#o)"/>
<circle cx="543.7" cy="125.6" r="3.15" fill="url(#o)"/>
<circle cx="550.1" cy="126.6" r="3.15" fill="url(#o)"/>
<circle cx="444.6" cy="130.4" r="3.15" fill="url(#o)"/>
<circle cx="457.5" cy="129.5" r="3.15" fill="url(#o)"/>
<circle cx="465.5" cy="131.9" r="3.15" fill="url(#o)"/>
<circle cx="470.7" cy="130.1" r="3.15" fill="url(#o)"/>
<circle cx="474.9" cy="130.1" r="3.15" fill="url(#o)"/>
<circle cx="478.1" cy="131.6" r="3.15" fill="url(#o)"/>
<circle cx="483.9" cy="132.3" r="3.15" fill="url(#o)"/>
<circle cx="488.7" cy="129.2" r="3.15" fill="url(#o)"/>
<circle cx="489.9" cy="130.9" r="3.15" fill="url(#o)"/>
<circle cx="496.6" cy="130.2" r="3.15" fill="url(#o)"/>
<circle cx="501.0" cy="130.9" r="3.15" fill="url(#o)"/>
<circle cx="504.3" cy="129.3" r="3.15" fill="url(#o)"/>
<circle cx="512.2" cy="131.3" r="3.15" fill="url(#o)"/>
<circle cx="517.7" cy="130.6" r="3.15" fill="url(#o)"/>
<circle cx="522.1" cy="129.8" r="3.15" fill="url(#o)"/>
<circle cx="526.2" cy="131.5" r="3.15" fill="url(#o)"/>
<circle cx="534.0" cy="131.5" r="3.15" fill="url(#o)"/>
<circle cx="546.6" cy="130.8" r="3.15" fill="url(#o)"/>
<circle cx="552.9" cy="132.2" r="3.15" fill="url(#o)"/>
<circle cx="481.3" cy="133.6" r="3.15" fill="url(#o)"/>
<circle cx="486.1" cy="134.0" r="3.15" fill="url(#o)"/>
<circle cx="489.8" cy="133.5" r="3.15" fill="url(#o)"/>
<circle cx="493.4" cy="136.0" r="3.15" fill="url(#o)"/>
<circle cx="498.6" cy="133.0" r="3.15" fill="url(#o)"/>
<circle cx="501.0" cy="133.4" r="3.15" fill="url(#o)"/>
<circle cx="514.2" cy="135.3" r="3.15" fill="url(#o)"/>
<circle cx="520.8" cy="134.0" r="3.15" fill="url(#o)"/>
<circle cx="525.2" cy="134.0" r="3.15" fill="url(#o)"/>
<circle cx="529.3" cy="133.5" r="3.15" fill="url(#o)"/>
<circle cx="533.7" cy="133.3" r="3.15" fill="url(#o)"/>
<circle cx="537.5" cy="135.3" r="3.15" fill="url(#o)"/>
<circle cx="546.1" cy="135.2" r="3.15" fill="url(#o)"/>
<circle cx="550.1" cy="134.2" r="3.15" fill="url(#o)"/>
<circle cx="552.3" cy="135.9" r="3.15" fill="url(#o)"/>
<circle cx="484.3" cy="136.6" r="3.15" fill="url(#o)"/>
<circle cx="492.9" cy="139.3" r="3.15" fill="url(#o)"/>
<circle cx="494.3" cy="138.8" r="3.15" fill="url(#o)"/>
<circle cx="500.0" cy="137.1" r="3.15" fill="url(#o)"/>
<circle cx="505.3" cy="137.0" r="3.15" fill="url(#o)"/>
<circle cx="508.4" cy="137.5" r="3.15" fill="url(#o)"/>
<circle cx="512.8" cy="138.7" r="3.15" fill="url(#o)"/>
<circle cx="518.5" cy="138.2" r="3.15" fill="url(#o)"/>
<circle cx="529.9" cy="136.7" r="3.15" fill="url(#o)"/>
<circle cx="534.4" cy="139.4" r="3.15" fill="url(#o)"/>
<circle cx="539.5" cy="139.0" r="3.15" fill="url(#o)"/>
<circle cx="543.8" cy="137.3" r="3.15" fill="url(#o)"/>
<circle cx="547.7" cy="139.1" r="3.15" fill="url(#o)"/>
<circle cx="551.2" cy="139.2" r="3.15" fill="url(#o)"/>
<circle cx="488.5" cy="141.1" r="3.15" fill="url(#o)"/>
<circle cx="494.5" cy="141.8" r="3.15" fill="url(#o)"/>
<circle cx="497.0" cy="142.9" r="3.15" fill="url(#o)"/>
<circle cx="503.3" cy="140.7" r="3.15" fill="url(#o)"/>
<circle cx="508.1" cy="142.6" r="3.15" fill="url(#o)"/>
<circle cx="509.7" cy="140.5" r="3.15" fill="url(#o)"/>
<circle cx="513.7" cy="142.9" r="3.15" fill="url(#o)"/>
<circle cx="519.3" cy="143.2" r="3.15" fill="url(#o)"/>
<circle cx="524.1" cy="140.6" r="3.15" fill="url(#o)"/>
<circle cx="527.7" cy="141.1" r="3.15" fill="url(#o)"/>
<circle cx="533.0" cy="140.7" r="3.15" fill="url(#o)"/>
<circle cx="536.1" cy="142.2" r="3.15" fill="url(#o)"/>
<circle cx="540.7" cy="142.9" r="3.15" fill="url(#o)"/>
<circle cx="545.9" cy="141.4" r="3.15" fill="url(#o)"/>
<circle cx="550.9" cy="141.4" r="3.15" fill="url(#o)"/>
<circle cx="552.6" cy="141.6" r="3.15" fill="url(#o)"/>
<circle cx="494.8" cy="144.6" r="3.15" fill="url(#o)"/>
<circle cx="507.9" cy="144.7" r="3.15" fill="url(#o)"/>
<circle cx="513.1" cy="145.1" r="3.15" fill="url(#o)"/>
<circle cx="516.6" cy="144.9" r="3.15" fill="url(#o)"/>
<circle cx="522.5" cy="146.6" r="3.15" fill="url(#o)"/>
<circle cx="528.7" cy="144.6" r="3.15" fill="url(#o)"/>
<circle cx="534.5" cy="146.7" r="3.15" fill="url(#o)"/>
<circle cx="538.5" cy="144.8" r="3.15" fill="url(#o)"/>
<circle cx="548.9" cy="144.9" r="3.15" fill="url(#o)"/>
<circle cx="550.4" cy="146.1" r="3.15" fill="url(#o)"/>
<circle cx="510.4" cy="149.5" r="3.15" fill="url(#o)"/>
<circle cx="518.9" cy="150.8" r="3.15" fill="url(#o)"/>
<circle cx="525.0" cy="150.2" r="3.15" fill="url(#o)"/>
<circle cx="531.5" cy="148.1" r="3.15" fill="url(#o)"/>
<circle cx="536.0" cy="149.1" r="3.15" fill="url(#o)"/>
<circle cx="539.6" cy="150.0" r="3.15" fill="url(#o)"/>
<circle cx="546.1" cy="150.6" r="3.15" fill="url(#o)"/>
<circle cx="548.4" cy="150.2" r="3.15" fill="url(#o)"/>
<circle cx="553.4" cy="148.9" r="3.15" fill="url(#o)"/>
<circle cx="522.3" cy="153.1" r="3.15" fill="url(#o)"/>
<circle cx="525.4" cy="154.3" r="3.15" fill="url(#o)"/>
<circle cx="530.0" cy="153.3" r="3.15" fill="url(#o)"/>
<circle cx="540.0" cy="153.8" r="3.15" fill="url(#o)"/>
<circle cx="544.2" cy="152.0" r="3.15" fill="url(#o)"/>
<circle cx="548.0" cy="154.1" r="3.15" fill="url(#o)"/>
<circle cx="554.7" cy="151.7" r="3.15" fill="url(#o)"/>
<circle cx="531.8" cy="156.2" r="3.15" fill="url(#o)"/>
<circle cx="538.1" cy="157.1" r="3.15" fill="url(#o)"/>
<circle cx="539.5" cy="157.0" r="3.15" fill="url(#o)"/>
<circle cx="549.1" cy="158.4" r="3.15" fill="url(#o)"/>
<circle cx="533.4" cy="159.0" r="3.15" fill="url(#o)"/>
<circle cx="546.5" cy="160.8" r="3.15" fill="url(#o)"/>
<circle cx="550.7" cy="159.2" r="3.15" fill="url(#o)"/>
<circle cx="554.7" cy="159.7" r="3.15" fill="url(#o)"/>
<circle cx="387.4" cy="25.4" r="3.15" fill="url(#o)"/>
<circle cx="387.4" cy="30.7" r="3.15" fill="url(#o)"/>
<circle cx="448.3" cy="30.7" r="3.15" fill="url(#o)"/>
<circle cx="428.9" cy="38.0" r="3.15" fill="url(#o)"/>
<circle cx="392.9" cy="37.2" r="3.15" fill="url(#o)"/>
<circle cx="397.3" cy="38.6" r="3.15" fill="url(#o)"/>
<circle cx="393.9" cy="42.6" r="3.15" fill="url(#o)"/>
<circle cx="393.9" cy="47.5" r="3.15" fill="url(#o)"/>
<circle cx="394.2" cy="51.9" r="3.15" fill="url(#o)"/>
<circle cx="462.2" cy="49.1" r="3.15" fill="url(#o)"/>
<circle cx="429.0" cy="55.7" r="3.15" fill="url(#o)"/>
<circle cx="393.7" cy="55.4" r="3.15" fill="url(#o)"/>
<circle cx="392.4" cy="58.7" r="3.15" fill="url(#o)"/>
<circle cx="394.5" cy="60.5" r="3.15" fill="url(#o)"/>
<circle cx="392.7" cy="66.0" r="3.15" fill="url(#o)"/>
<circle cx="395.8" cy="69.7" r="3.15" fill="url(#o)"/>
<circle cx="397.8" cy="77.6" r="3.15" fill="url(#o)"/>
<circle cx="398.6" cy="80.5" r="3.15" fill="url(#o)"/>
<circle cx="401.4" cy="63.7" r="3.15" fill="url(#o)"/>
<circle cx="401.8" cy="67.4" r="3.15" fill="url(#o)"/>
<circle cx="410.6" cy="67.1" r="3.15" fill="url(#o)"/>
<circle cx="409.6" cy="72.0" r="3.15" fill="url(#o)"/>
<circle cx="414.6" cy="72.5" r="3.15" fill="url(#o)"/>
<circle cx="410.0" cy="79.7" r="3.15" fill="url(#o)"/>
<circle cx="416.6" cy="79.7" r="3.15" fill="url(#o)"/>
<circle cx="405.8" cy="82.5" r="3.15" fill="url(#o)"/>
<circle cx="438.5" cy="61.7" r="3.15" fill="url(#o)"/>
<circle cx="428.0" cy="67.4" r="3.15" fill="url(#o)"/>
<circle cx="428.1" cy="71.7" r="3.15" fill="url(#o)"/>
<circle cx="438.5" cy="71.4" r="3.15" fill="url(#o)"/>
<circle cx="428.0" cy="76.2" r="3.15" fill="url(#o)"/>
<circle cx="428.0" cy="80.2" r="3.15" fill="url(#o)"/>
<circle cx="434.7" cy="78.2" r="3.15" fill="url(#o)"/>
<circle cx="430.1" cy="83.0" r="3.15" fill="url(#o)"/>
<circle cx="438.1" cy="82.9" r="3.15" fill="url(#o)"/>
<circle cx="461.2" cy="75.3" r="3.15" fill="url(#o)"/>
<circle cx="456.2" cy="83.0" r="3.15" fill="url(#o)"/>
<circle cx="461.7" cy="81.3" r="3.15" fill="url(#o)"/>
<circle cx="417.6" cy="84.7" r="3.15" fill="url(#o)"/>
<circle cx="431.5" cy="78.8" r="3.15" fill="url(#o)"/>
<circle cx="434.4" cy="80.8" r="3.15" fill="url(#o)"/>
<circle cx="436.4" cy="85.7" r="3.15" fill="url(#o)"/>
<circle cx="424.6" cy="89.7" r="3.15" fill="url(#o)"/>
<circle cx="404.8" cy="85.7" r="3.15" fill="url(#o)"/>
<circle cx="408.7" cy="91.6" r="3.15" fill="url(#o)"/>
<circle cx="399.8" cy="78.8" r="3.15" fill="url(#o)"/>
<circle cx="450.3" cy="85.7" r="3.15" fill="url(#o)"/>
<circle cx="444.3" cy="89.7" r="3.15" fill="url(#o)"/>
<circle cx="468.1" cy="91.6" r="3.15" fill="url(#o)"/>
<circle cx="476.0" cy="95.6" r="3.15" fill="url(#o)"/>
<circle cx="487.8" cy="93.4" r="3.15" fill="url(#o)"/>
<circle cx="483.9" cy="101.5" r="3.15" fill="url(#o)"/>
<circle cx="492.8" cy="103.5" r="3.15" fill="url(#o)"/>
<circle cx="504.3" cy="95.8" r="3.15" fill="url(#o)"/>
<circle cx="507.6" cy="99.6" r="3.15" fill="url(#o)"/>
<circle cx="511.8" cy="97.3" r="3.15" fill="url(#o)"/>
<circle cx="518.8" cy="99.8" r="3.15" fill="url(#o)"/>
<circle cx="526.1" cy="96.9" r="3.15" fill="url(#o)"/>
<circle cx="528.7" cy="104.7" r="3.15" fill="url(#o)"/>
<circle cx="534.7" cy="109.7" r="3.15" fill="url(#o)"/>
<circle cx="539.6" cy="110.7" r="3.15" fill="url(#o)"/>
<circle cx="549.4" cy="109.0" r="3.15" fill="url(#o)"/>
<circle cx="550.5" cy="112.6" r="3.15" fill="url(#o)"/>
<circle cx="595.8" cy="128.3" r="3.15" fill="url(#o)"/>
<circle cx="608.1" cy="126.7" r="3.15" fill="url(#o)"/>
<circle cx="606.9" cy="129.4" r="3.15" fill="url(#o)"/>
<circle cx="465.5" cy="93.6" r="3.15" fill="url(#o)"/>
<circle cx="473.8" cy="96.4" r="3.15" fill="url(#o)"/>
<circle cx="503.1" cy="152.4" r="3.15" fill="url(#o)"/>
<circle cx="550.2" cy="115.2" r="3.15" fill="url(#o)"/>
<circle cx="431.6" cy="130.6" r="3.15" fill="url(#o)"/>
<circle cx="445.8" cy="133.0" r="3.15" fill="url(#o)"/>
<circle cx="461.3" cy="133.0" r="3.15" fill="url(#o)"/>
<circle cx="601.4" cy="198.9" r="3.15" fill="url(#o)"/>
<circle cx="562.1" cy="132.8" r="3.15" fill="url(#o)"/>
<circle cx="562.1" cy="138.7" r="3.15" fill="url(#o)"/>
<circle cx="568.1" cy="138.7" r="3.15" fill="url(#o)"/>
<circle cx="574.0" cy="136.4" r="3.15" fill="url(#o)"/>
<circle cx="578.7" cy="134.0" r="3.15" fill="url(#o)"/>
<circle cx="582.3" cy="132.8" r="3.15" fill="url(#o)"/>
<circle cx="588.2" cy="131.6" r="3.15" fill="url(#o)"/>
<circle cx="593.0" cy="129.2" r="3.15" fill="url(#o)"/>
<circle cx="594.2" cy="134.0" r="3.15" fill="url(#o)"/>
<circle cx="590.6" cy="138.7" r="3.15" fill="url(#o)"/>
<circle cx="589.4" cy="142.3" r="3.15" fill="url(#o)"/>
<circle cx="585.8" cy="136.4" r="3.15" fill="url(#o)"/>
<circle cx="576.4" cy="143.5" r="3.15" fill="url(#o)"/>
<circle cx="568.1" cy="144.7" r="3.15" fill="url(#o)"/>
<circle cx="560.9" cy="144.7" r="3.15" fill="url(#o)"/>
<circle cx="557.4" cy="148.2" r="3.15" fill="url(#o)"/>
<circle cx="564.5" cy="151.8" r="3.15" fill="url(#o)"/>
<circle cx="560.9" cy="156.5" r="3.15" fill="url(#o)"/>
<circle cx="566.9" cy="157.7" r="3.15" fill="url(#o)"/>
<circle cx="572.8" cy="156.5" r="3.15" fill="url(#o)"/>
<circle cx="577.5" cy="158.9" r="3.15" fill="url(#o)"/>
<circle cx="582.8" cy="161.1" r="3.15" fill="url(#o)"/>
<circle cx="558.6" cy="162.5" r="3.15" fill="url(#o)"/>
<circle cx="564.5" cy="164.8" r="3.15" fill="url(#o)"/>
<circle cx="569.2" cy="166.0" r="3.15" fill="url(#o)"/>
<circle cx="576.4" cy="166.0" r="3.15" fill="url(#o)"/>
<circle cx="581.1" cy="167.2" r="3.15" fill="url(#o)"/>
<circle cx="585.8" cy="166.0" r="3.15" fill="url(#o)"/>
<circle cx="591.8" cy="168.4" r="3.15" fill="url(#o)"/>
<circle cx="596.5" cy="168.8" r="3.15" fill="url(#o)"/>
<circle cx="601.3" cy="168.4" r="3.15" fill="url(#o)"/>
<circle cx="604.8" cy="164.8" r="3.15" fill="url(#o)"/>
<circle cx="604.7" cy="161.1" r="3.15" fill="url(#o)"/>
<circle cx="602.5" cy="155.3" r="3.15" fill="url(#o)"/>
<circle cx="606.0" cy="149.4" r="3.15" fill="url(#o)"/>
<circle cx="602.5" cy="145.8" r="3.15" fill="url(#o)"/>
<circle cx="604.8" cy="139.9" r="3.15" fill="url(#o)"/>
<circle cx="607.2" cy="135.2" r="3.15" fill="url(#o)"/>
<circle cx="600.1" cy="132.8" r="3.15" fill="url(#o)"/>
<circle cx="597.7" cy="153.0" r="3.15" fill="url(#o)"/>
<circle cx="595.3" cy="157.7" r="3.15" fill="url(#o)"/>
<circle cx="594.2" cy="162.5" r="3.15" fill="url(#o)"/>
<circle cx="590.6" cy="148.2" r="3.15" fill="url(#o)"/>
<circle cx="583.5" cy="163.6" r="3.15" fill="url(#o)"/>
<circle cx="546.0" cy="163.0" r="3.15" fill="url(#o)"/>
<circle cx="552.1" cy="162.0" r="3.15" fill="url(#o)"/>
<circle cx="558.1" cy="166.0" r="3.15" fill="url(#o)"/>
<circle cx="562.2" cy="162.0" r="3.15" fill="url(#o)"/>
<circle cx="566.2" cy="161.0" r="3.15" fill="url(#o)"/>
<circle cx="570.2" cy="162.0" r="3.15" fill="url(#o)"/>
<circle cx="572.3" cy="168.1" r="3.15" fill="url(#o)"/>
<circle cx="574.3" cy="172.1" r="3.15" fill="url(#o)"/>
<circle cx="577.3" cy="164.0" r="3.15" fill="url(#o)"/>
<circle cx="580.3" cy="162.0" r="3.15" fill="url(#o)"/>
<circle cx="586.4" cy="170.1" r="3.15" fill="url(#o)"/>
<circle cx="588.4" cy="176.1" r="3.15" fill="url(#o)"/>
<circle cx="586.4" cy="182.2" r="3.15" fill="url(#o)"/>
<circle cx="589.4" cy="180.2" r="3.15" fill="url(#o)"/>
<circle cx="592.4" cy="176.1" r="3.15" fill="url(#o)"/>
<circle cx="594.4" cy="172.1" r="3.15" fill="url(#o)"/>
<circle cx="598.5" cy="164.0" r="3.15" fill="url(#o)"/>
<circle cx="600.5" cy="161.0" r="3.15" fill="url(#o)"/>
<circle cx="603.5" cy="168.1" r="3.15" fill="url(#o)"/>
<circle cx="600.5" cy="172.1" r="3.15" fill="url(#o)"/>
<circle cx="597.5" cy="178.1" r="3.15" fill="url(#o)"/>
<circle cx="600.5" cy="182.2" r="3.15" fill="url(#o)"/>
<circle cx="598.5" cy="186.2" r="3.15" fill="url(#o)"/>
<circle cx="600.5" cy="190.2" r="3.15" fill="url(#o)"/>
<circle cx="604.5" cy="188.2" r="3.15" fill="url(#o)"/>
<circle cx="605.5" cy="182.2" r="3.15" fill="url(#o)"/>
<circle cx="604.5" cy="176.1" r="3.15" fill="url(#o)"/>
<circle cx="602.5" cy="166.0" r="3.15" fill="url(#o)"/>
<circle cx="606.5" cy="170.1" r="3.15" fill="url(#o)"/>
<circle cx="607.5" cy="160.0" r="3.15" fill="url(#o)"/>
<circle cx="595.4" cy="180.2" r="3.15" fill="url(#o)"/>
<circle cx="592.4" cy="184.2" r="3.15" fill="url(#o)"/>
<circle cx="590.4" cy="188.2" r="3.15" fill="url(#o)"/>
<circle cx="410.6" cy="87.6" r="3.15" fill="url(#o)"/>
<circle cx="418.9" cy="86.3" r="3.15" fill="url(#o)"/>
<circle cx="405.1" cy="101.5" r="3.15" fill="url(#o)"/>
<circle cx="410.6" cy="98.7" r="3.15" fill="url(#o)"/>
<circle cx="417.6" cy="95.9" r="3.15" fill="url(#o)"/>
<circle cx="413.4" cy="105.6" r="3.15" fill="url(#o)"/>
<circle cx="421.7" cy="104.2" r="3.15" fill="url(#o)"/>
<circle cx="418.9" cy="112.5" r="3.15" fill="url(#o)"/>
<circle cx="427.2" cy="109.8" r="3.15" fill="url(#o)"/>
<circle cx="424.5" cy="118.1" r="3.15" fill="url(#o)"/>
<circle cx="431.4" cy="123.6" r="3.15" fill="url(#o)"/>
</g>
<rect x="59.0" y="5.9" width="250.90" height="205.30" fill="none" stroke="#6a6a6a" stroke-width="1.9"/>
<rect x="385.0" y="5.9" width="250.50" height="204.90" fill="none" stroke="#6a6a6a" stroke-width="1.9"/>
<path d="M59.00 211.2v-5 M81.81 211.2v-3.5 M104.62 211.2v-5 M127.43 211.2v-3.5 M150.24 211.2v-5 M173.05 211.2v-3.5 M195.85 211.2v-5 M218.66 211.2v-3.5 M241.47 211.2v-5 M264.28 211.2v-3.5 M287.09 211.2v-5 M309.90 211.2v-3.5" stroke="#3a3a3a" stroke-width="1.1" fill="none"/>
<path d="M385.00 210.8v-5 M407.77 210.8v-3.5 M430.55 210.8v-5 M453.32 210.8v-3.5 M476.09 210.8v-5 M498.86 210.8v-3.5 M521.64 210.8v-5 M544.41 210.8v-3.5 M567.18 210.8v-5 M589.95 210.8v-3.5 M612.73 210.8v-5 M635.50 210.8v-3.5" stroke="#3a3a3a" stroke-width="1.1" fill="none"/>
<path d="M59.0 211.20h4.0 M59.0 205.58h2.5 M59.0 202.30h2.5 M59.0 199.96h2.5 M59.0 198.15h2.5 M59.0 196.68h2.5 M59.0 195.43h2.5 M59.0 194.35h2.5 M59.0 193.39h2.5 M59.0 192.54h4.0 M59.0 186.92h2.5 M59.0 183.63h2.5 M59.0 181.30h2.5 M59.0 179.49h2.5 M59.0 178.01h2.5 M59.0 176.76h2.5 M59.0 175.68h2.5 M59.0 174.73h2.5 M59.0 173.87h4.0 M59.0 168.25h2.5 M59.0 164.97h2.5 M59.0 162.64h2.5 M59.0 160.83h2.5 M59.0 159.35h2.5 M59.0 158.10h2.5 M59.0 157.02h2.5 M59.0 156.06h2.5 M59.0 155.21h4.0 M59.0 149.59h2.5 M59.0 146.30h2.5 M59.0 143.97h2.5 M59.0 142.16h2.5 M59.0 140.69h2.5 M59.0 139.44h2.5 M59.0 138.35h2.5 M59.0 137.40h2.5 M59.0 136.55h4.0 M59.0 130.93h2.5 M59.0 127.64h2.5 M59.0 125.31h2.5 M59.0 123.50h2.5 M59.0 122.02h2.5 M59.0 120.77h2.5 M59.0 119.69h2.5 M59.0 118.74h2.5 M59.0 117.88h4.0 M59.0 112.26h2.5 M59.0 108.98h2.5 M59.0 106.65h2.5 M59.0 104.84h2.5 M59.0 103.36h2.5 M59.0 102.11h2.5 M59.0 101.03h2.5 M59.0 100.07h2.5 M59.0 99.22h4.0 M59.0 93.60h2.5 M59.0 90.31h2.5 M59.0 87.98h2.5 M59.0 86.17h2.5 M59.0 84.70h2.5 M59.0 83.45h2.5 M59.0 82.36h2.5 M59.0 81.41h2.5 M59.0 80.55h4.0 M59.0 74.94h2.5 M59.0 71.65h2.5 M59.0 69.32h2.5 M59.0 67.51h2.5 M59.0 66.03h2.5 M59.0 64.78h2.5 M59.0 63.70h2.5 M59.0 62.74h2.5 M59.0 61.89h4.0 M59.0 56.27h2.5 M59.0 52.99h2.5 M59.0 50.65h2.5 M59.0 48.85h2.5 M59.0 47.37h2.5 M59.0 46.12h2.5 M59.0 45.04h2.5 M59.0 44.08h2.5 M59.0 43.23h4.0 M59.0 37.61h2.5 M59.0 34.32h2.5 M59.0 31.99h2.5 M59.0 30.18h2.5 M59.0 28.70h2.5 M59.0 27.45h2.5 M59.0 26.37h2.5 M59.0 25.42h2.5 M59.0 24.56h4.0" stroke="#3a3a3a" stroke-width="1.0" fill="none"/>
<path d="M385.0 210.80h4.0 M385.0 193.67h2.5 M385.0 183.65h2.5 M385.0 176.54h2.5 M385.0 171.03h2.5 M385.0 166.52h2.5 M385.0 162.71h2.5 M385.0 159.41h2.5 M385.0 156.50h2.5 M385.0 153.90h4.0 M385.0 136.77h2.5 M385.0 126.75h2.5 M385.0 119.64h2.5 M385.0 114.13h2.5 M385.0 109.62h2.5 M385.0 105.81h2.5 M385.0 102.51h2.5 M385.0 99.60h2.5 M385.0 97.00h4.0 M385.0 79.87h2.5 M385.0 69.85h2.5 M385.0 62.74h2.5 M385.0 57.23h2.5 M385.0 52.72h2.5 M385.0 48.91h2.5 M385.0 45.61h2.5 M385.0 42.70h2.5 M385.0 40.10h4.0" stroke="#3a3a3a" stroke-width="1.0" fill="none"/>
<g style="filter:grayscale(1)" stroke="#111" stroke-width="0.25">
<text x="59.0" y="229.5" font-size="18" text-anchor="middle" >0</text>
<text x="385.0" y="229.5" font-size="18" text-anchor="middle" >0</text>
<text x="104.6" y="229.5" font-size="18" text-anchor="middle" >10</text>
<text x="430.5" y="229.5" font-size="18" text-anchor="middle" >10</text>
<text x="150.2" y="229.5" font-size="18" text-anchor="middle" >20</text>
<text x="476.1" y="229.5" font-size="18" text-anchor="middle" >20</text>
<text x="195.9" y="229.5" font-size="18" text-anchor="middle" >30</text>
<text x="521.6" y="229.5" font-size="18" text-anchor="middle" >30</text>
<text x="241.5" y="229.5" font-size="18" text-anchor="middle" >40</text>
<text x="567.2" y="229.5" font-size="18" text-anchor="middle" >40</text>
<text x="287.1" y="229.5" font-size="18" text-anchor="middle" >50</text>
<text x="612.7" y="229.5" font-size="18" text-anchor="middle" >50</text>
<text x="31.4" y="180.2" font-size="17.2">10<tspan font-size="11.3" dy="-7">0</tspan></text>
<text x="31.4" y="142.8" font-size="17.2">10<tspan font-size="11.3" dy="-7">2</tspan></text>
<text x="31.4" y="105.5" font-size="17.2">10<tspan font-size="11.3" dy="-7">4</tspan></text>
<text x="31.4" y="68.2" font-size="17.2">10<tspan font-size="11.3" dy="-7">6</tspan></text>
<text x="31.4" y="30.9" font-size="17.2">10<tspan font-size="11.3" dy="-7">8</tspan></text>
<text x="379.6" y="44.9" font-size="17.4" text-anchor="end" >100</text>
<text x="379.6" y="101.8" font-size="17.4" text-anchor="end" >10</text>
<text x="379.6" y="158.7" font-size="17.4" text-anchor="end" >1</text>
<text x="379.6" y="215.6" font-size="17.4" text-anchor="end" >0.1</text>
<text x="0" y="0" font-size="16" text-anchor="middle" transform="translate(179,249) scale(0.975,1)">Frequency (THZ)</text>
<text x="0" y="0" font-size="16" text-anchor="middle" transform="translate(508.8,249) scale(0.975,1)">Frequency (THZ)</text>
<text x="1.5" y="12" font-size="16" text-anchor="start" >(a)</text>
<text x="335.5" y="12" font-size="16" text-anchor="start" >(b)</text>
<g transform="translate(14.7,131) rotate(-90) scale(0.86,1)">
<text x="0.00" y="0" font-size="16.5">V</text>
<text x="14.30" y="4.6" font-size="10.5">g</text>
<text x="20.23" y="-6.8" font-size="10.5">2</text>
<text x="30.70" y="0" font-size="16.5">(</text>
<text x="37.67" y="0" font-size="16.5">m</text>
<text x="50.00" y="-9.2" font-size="10.5">2</text>
<text x="55.00" y="0" font-size="16.5">/</text>
<text x="62.79" y="0" font-size="16.5">s</text>
<text x="69.07" y="-7.9" font-size="10.5">2</text>
<text x="76.28" y="0" font-size="16.5">)</text>
</g>
<text transform="translate(350,141.7) rotate(-90)" font-size="17">Lifetime (ps)</text>
<text x="243" y="25.2" font-size="12.6" text-anchor="start" >PSNT</text>
<text x="240.5" y="37.3" font-size="12.6" text-anchor="start" >(5,5) CNT</text>
<text x="240" y="48.7" font-size="12.6" text-anchor="start" >(9,0) CNT</text>
</g>
<circle cx="232.8" cy="21" r="3.05" fill="url(#r)"/>
<circle cx="232.8" cy="31.8" r="3.05" fill="url(#b)"/>
<circle cx="232.8" cy="42.8" r="3.05" fill="url(#o)"/>
</svg></body></html>
